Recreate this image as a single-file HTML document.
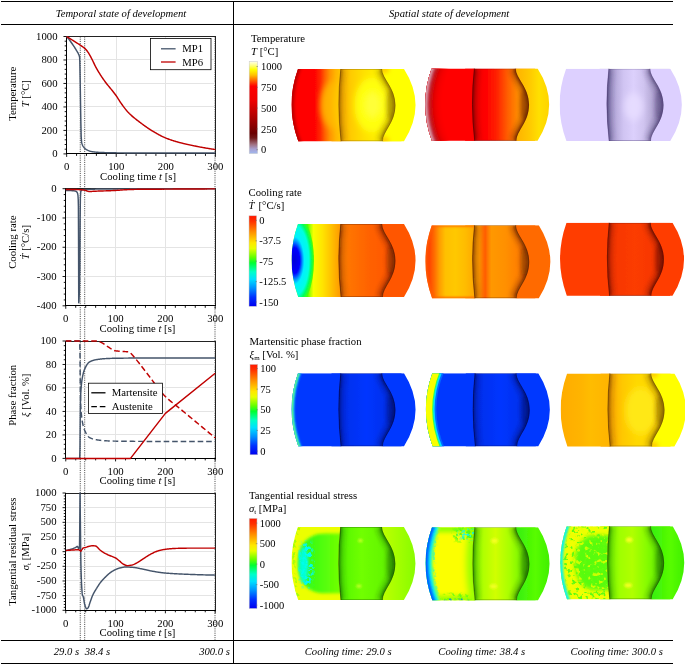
<!DOCTYPE html>
<html lang="en"><head><meta charset="utf-8"><title>Temporal and spatial state of development</title>
<style>
html,body{margin:0;padding:0;background:#fff;}
body{width:685px;height:664px;overflow:hidden;}
svg{display:block;will-change:transform;}
svg text{font-family:"Liberation Serif", "DejaVu Serif", serif;font-size:10.72px;fill:#000;}
svg .i{font-style:italic;}
svg text.it{font-style:italic;font-size:10.65px;}
svg .sub{font-size:7px;}
svg text.cb{font-size:11.2px;}
</style></head><body>
<svg width="685" height="664" viewBox="0 0 685 664">
<defs>
<linearGradient id="cbT" x1="0" y1="0" x2="0" y2="1" gradientUnits="objectBoundingBox"><stop offset="0.0000" stop-color="#fffff0"/><stop offset="0.0400" stop-color="#ffff90"/><stop offset="0.0900" stop-color="#ffff00"/><stop offset="0.1500" stop-color="#ffc000"/><stop offset="0.2100" stop-color="#ff6000"/><stop offset="0.2700" stop-color="#ff0000"/><stop offset="0.4200" stop-color="#f00000"/><stop offset="0.6000" stop-color="#b00000"/><stop offset="0.7800" stop-color="#6a0000"/><stop offset="0.8300" stop-color="#701818"/><stop offset="0.9000" stop-color="#a07080"/><stop offset="0.9500" stop-color="#a8a0d0"/><stop offset="1.0000" stop-color="#a0b8f0"/></linearGradient>
<linearGradient id="cbC" x1="0" y1="0" x2="0" y2="1" gradientUnits="objectBoundingBox"><stop offset="0.0000" stop-color="#ff1800"/><stop offset="0.0600" stop-color="#ff3000"/><stop offset="0.1800" stop-color="#ff9000"/><stop offset="0.3000" stop-color="#ffe800"/><stop offset="0.3600" stop-color="#e8ff00"/><stop offset="0.4600" stop-color="#60ff00"/><stop offset="0.5200" stop-color="#00ff30"/><stop offset="0.6200" stop-color="#00ffc8"/><stop offset="0.7000" stop-color="#00e0ff"/><stop offset="0.8000" stop-color="#0090ff"/><stop offset="0.9000" stop-color="#0030ff"/><stop offset="1.0000" stop-color="#0000f0"/></linearGradient>
<linearGradient id="cbM" x1="0" y1="0" x2="0" y2="1" gradientUnits="objectBoundingBox"><stop offset="0.0000" stop-color="#ff1800"/><stop offset="0.0600" stop-color="#ff3000"/><stop offset="0.1800" stop-color="#ff9000"/><stop offset="0.3000" stop-color="#ffe800"/><stop offset="0.3600" stop-color="#e8ff00"/><stop offset="0.4600" stop-color="#60ff00"/><stop offset="0.5200" stop-color="#00ff30"/><stop offset="0.6200" stop-color="#00ffc8"/><stop offset="0.7000" stop-color="#00e0ff"/><stop offset="0.8000" stop-color="#0090ff"/><stop offset="0.9000" stop-color="#0030ff"/><stop offset="1.0000" stop-color="#0000f0"/></linearGradient>
<linearGradient id="cbS" x1="0" y1="0" x2="0" y2="1" gradientUnits="objectBoundingBox"><stop offset="0.0000" stop-color="#ff1800"/><stop offset="0.0600" stop-color="#ff3000"/><stop offset="0.1800" stop-color="#ff9000"/><stop offset="0.3000" stop-color="#ffe800"/><stop offset="0.3600" stop-color="#e8ff00"/><stop offset="0.4600" stop-color="#60ff00"/><stop offset="0.5200" stop-color="#00ff30"/><stop offset="0.6200" stop-color="#00ffc8"/><stop offset="0.7000" stop-color="#00e0ff"/><stop offset="0.8000" stop-color="#0090ff"/><stop offset="0.9000" stop-color="#0030ff"/><stop offset="1.0000" stop-color="#0000f0"/></linearGradient>
<path id="pOut" d="M6.5,0 L112.5,0 Q135.6,36.1 112.5,72.2 L6.8,72.2 Q-6.6,36.1 6.5,0Z"/><path id="pA" d="M6.5,0 L49.1,0 Q45.1,36.1 49.4,72.2 L6.8,72.2 Q-6.6,36.1 6.5,0Z"/><path id="pC" d="M90.6,0 L112.5,0 Q135.6,36.1 112.5,72.2 L91.3,72.2 C91.3,62.2 103.9,54 103.9,36.3 C103.9,18.5 90.6,10 90.6,0Z"/>
<path id="pS1" d="M49.1,0 Q45.1,36.1 49.4,72.2"/><path id="pS2" d="M90.6,0 C90.6,10 103.9,18.5 103.9,36.3 C103.9,54 91.3,62.2 91.3,72.2"/><path id="pL" d="M9.39,-7.22 Q-9.52,36.1 9.75,79.42"/><path id="pR" d="M112.5,0 Q135.6,36.1 112.5,72.2"/>
<clipPath id="cOut"><use href="#pOut"/></clipPath><clipPath id="cA"><use href="#pA"/></clipPath><clipPath id="cC"><use href="#pC"/></clipPath>
<filter id="b06" filterUnits="userSpaceOnUse" x="-30" y="-30" width="190" height="135"><feGaussianBlur stdDeviation="0.6"/></filter>
<filter id="b1" filterUnits="userSpaceOnUse" x="-30" y="-30" width="190" height="135"><feGaussianBlur stdDeviation="1"/></filter>
<filter id="b15" filterUnits="userSpaceOnUse" x="-30" y="-30" width="190" height="135"><feGaussianBlur stdDeviation="1.5"/></filter>
<filter id="b2" filterUnits="userSpaceOnUse" x="-30" y="-30" width="190" height="135"><feGaussianBlur stdDeviation="2"/></filter>
<filter id="b3" filterUnits="userSpaceOnUse" x="-30" y="-30" width="190" height="135"><feGaussianBlur stdDeviation="3.2"/></filter>
<filter id="b5" filterUnits="userSpaceOnUse" x="-30" y="-30" width="190" height="135"><feGaussianBlur stdDeviation="5"/></filter>
<filter id="soft" x="-5%" y="-5%" width="110%" height="110%"><feGaussianBlur stdDeviation="0.45"/></filter>
<linearGradient id="g1" x1="47" y1="0" x2="104" y2="0" gradientUnits="userSpaceOnUse"><stop offset="0.0000" stop-color="#ffa800"/><stop offset="0.0877" stop-color="#ffb800"/><stop offset="0.2281" stop-color="#ffcc00"/><stop offset="0.4386" stop-color="#ffe000"/><stop offset="0.6667" stop-color="#fff000"/><stop offset="1.0000" stop-color="#fff400"/></linearGradient>
<linearGradient id="g2" x1="0" y1="0" x2="49" y2="0" gradientUnits="userSpaceOnUse"><stop offset="0.0000" stop-color="#ff0000"/><stop offset="0.4694" stop-color="#ff0000"/><stop offset="0.5816" stop-color="#ff2400"/><stop offset="0.6735" stop-color="#ff5c00"/><stop offset="0.7755" stop-color="#ff9000"/><stop offset="0.8980" stop-color="#ffb400"/><stop offset="1.0000" stop-color="#ffc400"/></linearGradient>
<linearGradient id="g3" x1="47" y1="0" x2="104" y2="0" gradientUnits="userSpaceOnUse"><stop offset="0.0000" stop-color="#f40000"/><stop offset="0.2632" stop-color="#ff0400"/><stop offset="0.4386" stop-color="#ff2400"/><stop offset="0.6140" stop-color="#ff5c00"/><stop offset="0.7895" stop-color="#ff8800"/><stop offset="1.0000" stop-color="#ff9800"/></linearGradient>
<linearGradient id="g4" x1="90" y1="0" x2="124" y2="0" gradientUnits="userSpaceOnUse"><stop offset="0.0000" stop-color="#ffb000"/><stop offset="0.4118" stop-color="#ffc800"/><stop offset="0.7059" stop-color="#ffe000"/><stop offset="1.0000" stop-color="#ffd400"/></linearGradient>
<clipPath id="cOut5"><path d="M6.5,0 L110.7,0 Q133.8,36.1 110.7,72.2 L6.8,72.2 Q-6.6,36.1 6.5,0Z"/></clipPath><clipPath id="cC5"><path d="M90.6,0 L110.7,0 Q133.8,36.1 110.7,72.2 L91.3,72.2 C91.3,62.2 103.9,54 103.9,36.3 C103.9,18.5 90.6,10 90.6,0Z"/></clipPath>
<linearGradient id="g6" x1="47" y1="0" x2="104" y2="0" gradientUnits="userSpaceOnUse"><stop offset="0.0000" stop-color="#8074a8"/><stop offset="0.0526" stop-color="#9c90c4"/><stop offset="0.1579" stop-color="#b8acdc"/><stop offset="0.2982" stop-color="#d0c4f2"/><stop offset="0.4737" stop-color="#dcd0fc"/><stop offset="0.6491" stop-color="#d0c4f0"/><stop offset="0.7895" stop-color="#b8acd8"/><stop offset="1.0000" stop-color="#9c90bc"/></linearGradient>
<radialGradient id="rg21" cx="0" cy="0" r="1" gradientUnits="userSpaceOnUse" gradientTransform="translate(3,36.1) scale(19.5,47)"><stop offset="0" stop-color="#0000d8"/><stop offset="0.27" stop-color="#0000ff"/><stop offset="0.40" stop-color="#0090ff"/><stop offset="0.50" stop-color="#00f0ff"/><stop offset="0.74" stop-color="#00ffe0"/><stop offset="0.86" stop-color="#00ff60"/><stop offset="1" stop-color="#50ff00"/></radialGradient>
<linearGradient id="g7" x1="47" y1="0" x2="104" y2="0" gradientUnits="userSpaceOnUse"><stop offset="0.0000" stop-color="#ff8400"/><stop offset="0.1930" stop-color="#ff7400"/><stop offset="0.5789" stop-color="#ff6000"/><stop offset="1.0000" stop-color="#ff5400"/></linearGradient>
<linearGradient id="g8" x1="0" y1="0" x2="49" y2="0" gradientUnits="userSpaceOnUse"><stop offset="0.0000" stop-color="#50ff00"/><stop offset="0.3265" stop-color="#50ff00"/><stop offset="0.3776" stop-color="#a0ff00"/><stop offset="0.4490" stop-color="#f8ff00"/><stop offset="0.6327" stop-color="#ffe400"/><stop offset="0.8163" stop-color="#ffc000"/><stop offset="1.0000" stop-color="#ff9800"/></linearGradient>
<clipPath id="cOut9"><path d="M6.5,0 L113.5,0 Q136.6,36.1 113.5,72.2 L6.8,72.2 Q-6.6,36.1 6.5,0Z"/></clipPath><clipPath id="cC9"><path d="M90.6,0 L113.5,0 Q136.6,36.1 113.5,72.2 L91.3,72.2 C91.3,62.2 103.9,54 103.9,36.3 C103.9,18.5 90.6,10 90.6,0Z"/></clipPath>
<linearGradient id="g10" x1="47" y1="0" x2="104" y2="0" gradientUnits="userSpaceOnUse"><stop offset="0.0000" stop-color="#ffa400"/><stop offset="0.1228" stop-color="#ff9800"/><stop offset="0.1842" stop-color="#ff7000"/><stop offset="0.2281" stop-color="#ff5c00"/><stop offset="0.2719" stop-color="#ff7800"/><stop offset="0.3333" stop-color="#ff9800"/><stop offset="0.5789" stop-color="#ff9000"/><stop offset="0.8421" stop-color="#ff7c00"/><stop offset="1.0000" stop-color="#ff7400"/></linearGradient>
<linearGradient id="g11" x1="0" y1="0" x2="49" y2="0" gradientUnits="userSpaceOnUse"><stop offset="0.0000" stop-color="#ff4000"/><stop offset="0.0918" stop-color="#ff4800"/><stop offset="0.1837" stop-color="#ff6c00"/><stop offset="0.2857" stop-color="#ff9c00"/><stop offset="0.4082" stop-color="#ffc000"/><stop offset="0.6122" stop-color="#ffc800"/><stop offset="0.8163" stop-color="#ffbc00"/><stop offset="1.0000" stop-color="#ffa800"/></linearGradient>
<linearGradient id="g12" x1="47" y1="0" x2="104" y2="0" gradientUnits="userSpaceOnUse"><stop offset="0.0000" stop-color="#f43400"/><stop offset="0.4912" stop-color="#fc3c00"/><stop offset="1.0000" stop-color="#f43400"/></linearGradient>
<linearGradient id="g13" x1="47" y1="0" x2="104" y2="0" gradientUnits="userSpaceOnUse"><stop offset="0.0000" stop-color="#002ce8"/><stop offset="0.4912" stop-color="#0036ff"/><stop offset="1.0000" stop-color="#002ce4"/></linearGradient>
<linearGradient id="g14" x1="47" y1="0" x2="104" y2="0" gradientUnits="userSpaceOnUse"><stop offset="0.0000" stop-color="#002ce8"/><stop offset="0.4912" stop-color="#0036ff"/><stop offset="1.0000" stop-color="#002ce4"/></linearGradient>
<clipPath id="cOut15"><path d="M6.5,0 L113.8,0 Q136.9,36.1 113.8,72.2 L6.8,72.2 Q-6.6,36.1 6.5,0Z"/></clipPath><clipPath id="cC15"><path d="M90.6,0 L113.8,0 Q136.9,36.1 113.8,72.2 L91.3,72.2 C91.3,62.2 103.9,54 103.9,36.3 C103.9,18.5 90.6,10 90.6,0Z"/></clipPath>
<linearGradient id="g16" x1="47" y1="0" x2="104" y2="0" gradientUnits="userSpaceOnUse"><stop offset="0.0000" stop-color="#ff9c00"/><stop offset="0.0877" stop-color="#ffb000"/><stop offset="0.2632" stop-color="#ffc800"/><stop offset="0.5088" stop-color="#ffd800"/><stop offset="1.0000" stop-color="#ffd800"/></linearGradient>
<linearGradient id="g17" x1="0" y1="0" x2="49" y2="0" gradientUnits="userSpaceOnUse"><stop offset="0.0000" stop-color="#ffac00"/><stop offset="0.4082" stop-color="#ffb400"/><stop offset="0.6122" stop-color="#ffbc00"/><stop offset="1.0000" stop-color="#ffb400"/></linearGradient>
<filter id="skC" x="0" y="0" width="1" height="1" color-interpolation-filters="sRGB"><feTurbulence type="fractalNoise" baseFrequency="0.3" numOctaves="2" seed="4"/><feColorMatrix type="matrix" values="0 0 0 0 0.000  0 0 0 0 0.973  0 0 0 0 1.000  9 0 0 0 -4.50"/><feComposite in2="SourceAlpha" operator="in"/><feGaussianBlur stdDeviation="0.35"/></filter>
<filter id="skB" x="0" y="0" width="1" height="1" color-interpolation-filters="sRGB"><feTurbulence type="fractalNoise" baseFrequency="0.33" numOctaves="2" seed="9"/><feColorMatrix type="matrix" values="0 0 0 0 0.000  0 0 0 0 0.439  0 0 0 0 1.000  9 0 0 0 -4.68"/><feComposite in2="SourceAlpha" operator="in"/><feGaussianBlur stdDeviation="0.35"/></filter>
<filter id="skY" x="0" y="0" width="1" height="1" color-interpolation-filters="sRGB"><feTurbulence type="fractalNoise" baseFrequency="0.22" numOctaves="2" seed="2"/><feColorMatrix type="matrix" values="0 0 0 0 0.957  0 0 0 0 1.000  0 0 0 0 0.000  7 0 0 0 -3.29"/><feComposite in2="SourceAlpha" operator="in"/><feGaussianBlur stdDeviation="0.35"/></filter>
<filter id="skG" x="0" y="0" width="1" height="1" color-interpolation-filters="sRGB"><feTurbulence type="fractalNoise" baseFrequency="0.24" numOctaves="2" seed="7"/><feColorMatrix type="matrix" values="0 0 0 0 0.345  0 0 0 0 0.988  0 0 0 0 0.063  7 0 0 0 -3.50"/><feComposite in2="SourceAlpha" operator="in"/><feGaussianBlur stdDeviation="0.35"/></filter>
<linearGradient id="g41core" x1="7" y1="0" x2="50" y2="0" gradientUnits="userSpaceOnUse"><stop offset="0.0000" stop-color="#28fc30"/><stop offset="0.3500" stop-color="#40fc10"/><stop offset="1.0000" stop-color="#74ff00"/></linearGradient>
<linearGradient id="g18" x1="47" y1="0" x2="104" y2="0" gradientUnits="userSpaceOnUse"><stop offset="0.0000" stop-color="#50f400"/><stop offset="0.4035" stop-color="#70ff00"/><stop offset="1.0000" stop-color="#5cf000"/></linearGradient>
<linearGradient id="g19" x1="90" y1="0" x2="124" y2="0" gradientUnits="userSpaceOnUse"><stop offset="0.0000" stop-color="#c0ff00"/><stop offset="0.4118" stop-color="#a8ff00"/><stop offset="1.0000" stop-color="#88fc00"/></linearGradient>
<linearGradient id="g20" x1="47" y1="0" x2="104" y2="0" gradientUnits="userSpaceOnUse"><stop offset="0.0000" stop-color="#70f800"/><stop offset="0.1930" stop-color="#b0ff00"/><stop offset="0.4035" stop-color="#d0ff00"/><stop offset="0.6491" stop-color="#a8ff00"/><stop offset="1.0000" stop-color="#58f000"/></linearGradient>
<linearGradient id="g21" x1="90" y1="0" x2="124" y2="0" gradientUnits="userSpaceOnUse"><stop offset="0.0000" stop-color="#34ee10"/><stop offset="0.5882" stop-color="#58fc00"/><stop offset="1.0000" stop-color="#40f000"/></linearGradient>
<filter id="skG2" x="0" y="0" width="1" height="1" color-interpolation-filters="sRGB"><feTurbulence type="fractalNoise" baseFrequency="0.26" numOctaves="2" seed="11"/><feColorMatrix type="matrix" values="0 0 0 0 0.376  0 0 0 0 0.988  0 0 0 0 0.063  8 0 0 0 -4.48"/><feComposite in2="SourceAlpha" operator="in"/><feGaussianBlur stdDeviation="0.35"/></filter>
<filter id="skY2" x="0" y="0" width="1" height="1" color-interpolation-filters="sRGB"><feTurbulence type="fractalNoise" baseFrequency="0.24" numOctaves="2" seed="5"/><feColorMatrix type="matrix" values="0 0 0 0 0.910  0 0 0 0 1.000  0 0 0 0 0.000  7 0 0 0 -3.99"/><feComposite in2="SourceAlpha" operator="in"/><feGaussianBlur stdDeviation="0.35"/></filter>
<linearGradient id="g22" x1="47" y1="0" x2="104" y2="0" gradientUnits="userSpaceOnUse"><stop offset="0.0000" stop-color="#68f800"/><stop offset="0.2281" stop-color="#a0ff00"/><stop offset="0.4386" stop-color="#b0ff00"/><stop offset="0.6842" stop-color="#88fc00"/><stop offset="1.0000" stop-color="#50ec00"/></linearGradient>
<linearGradient id="g23" x1="90" y1="0" x2="124" y2="0" gradientUnits="userSpaceOnUse"><stop offset="0.0000" stop-color="#34ee10"/><stop offset="0.5882" stop-color="#58fc00"/><stop offset="1.0000" stop-color="#40f000"/></linearGradient>
</defs>
<rect width="685" height="664" fill="#fff"/>
<g stroke="#000" stroke-width="1" shape-rendering="crispEdges">
<line x1="1" y1="1.5" x2="673" y2="1.5"/>
<line x1="1" y1="24.5" x2="673" y2="24.5"/>
<line x1="1" y1="640.5" x2="673" y2="640.5"/>
<line x1="1" y1="663.5" x2="673" y2="663.5"/>
<line x1="233.5" y1="1" x2="233.5" y2="664"/>
</g>
<text x="121" y="16.6" class="it" text-anchor="middle">Temporal state of development</text>
<text x="449.2" y="16.6" class="it" text-anchor="middle">Spatial state of development</text>
<line x1="80.25" y1="36.5" x2="80.25" y2="640" stroke="#404040" stroke-width="0.9" stroke-dasharray="1.1 1.1"/>
<line x1="84.70" y1="36.5" x2="84.70" y2="640" stroke="#404040" stroke-width="0.9" stroke-dasharray="1.1 1.1"/>
<line x1="215.00" y1="36.5" x2="215.00" y2="640" stroke="#404040" stroke-width="0.9" stroke-dasharray="1.1 1.1"/>
<g stroke="#e4e4e4" stroke-width="1" shape-rendering="crispEdges">
<line x1="116.23" y1="36.5" x2="116.23" y2="153.9"/>
<line x1="165.82" y1="36.5" x2="165.82" y2="153.9"/>
<line x1="66.65" y1="130.42" x2="215.4" y2="130.42"/>
<line x1="66.65" y1="106.94" x2="215.4" y2="106.94"/>
<line x1="66.65" y1="83.46" x2="215.4" y2="83.46"/>
<line x1="66.65" y1="59.98" x2="215.4" y2="59.98"/>
</g>
<rect x="66.65" y="36.5" width="148.75" height="117.40" fill="none" stroke="#222" stroke-width="1" shape-rendering="crispEdges"/>
<line x1="66.15" y1="153.90" x2="215.9" y2="153.90" stroke="#000" stroke-width="1.1" shape-rendering="crispEdges"/>
<line x1="66.65" y1="36.5" x2="66.65" y2="153.9" stroke="#000" stroke-width="1.2" shape-rendering="crispEdges"/>
<g stroke="#000" stroke-width="0.9">
<line x1="63.45" y1="153.90" x2="66.65" y2="153.90"/>
<line x1="64.65" y1="149.20" x2="66.65" y2="149.20"/>
<line x1="64.65" y1="144.51" x2="66.65" y2="144.51"/>
<line x1="64.65" y1="139.81" x2="66.65" y2="139.81"/>
<line x1="64.65" y1="135.12" x2="66.65" y2="135.12"/>
<line x1="63.45" y1="130.42" x2="66.65" y2="130.42"/>
<line x1="64.65" y1="125.72" x2="66.65" y2="125.72"/>
<line x1="64.65" y1="121.03" x2="66.65" y2="121.03"/>
<line x1="64.65" y1="116.33" x2="66.65" y2="116.33"/>
<line x1="64.65" y1="111.64" x2="66.65" y2="111.64"/>
<line x1="63.45" y1="106.94" x2="66.65" y2="106.94"/>
<line x1="64.65" y1="102.24" x2="66.65" y2="102.24"/>
<line x1="64.65" y1="97.55" x2="66.65" y2="97.55"/>
<line x1="64.65" y1="92.85" x2="66.65" y2="92.85"/>
<line x1="64.65" y1="88.16" x2="66.65" y2="88.16"/>
<line x1="63.45" y1="83.46" x2="66.65" y2="83.46"/>
<line x1="64.65" y1="78.76" x2="66.65" y2="78.76"/>
<line x1="64.65" y1="74.07" x2="66.65" y2="74.07"/>
<line x1="64.65" y1="69.37" x2="66.65" y2="69.37"/>
<line x1="64.65" y1="64.68" x2="66.65" y2="64.68"/>
<line x1="63.45" y1="59.98" x2="66.65" y2="59.98"/>
<line x1="64.65" y1="55.28" x2="66.65" y2="55.28"/>
<line x1="64.65" y1="50.59" x2="66.65" y2="50.59"/>
<line x1="64.65" y1="45.89" x2="66.65" y2="45.89"/>
<line x1="64.65" y1="41.20" x2="66.65" y2="41.20"/>
<line x1="63.45" y1="36.50" x2="66.65" y2="36.50"/>
<line x1="66.65" y1="153.9" x2="66.65" y2="156.90"/>
<line x1="76.57" y1="153.9" x2="76.57" y2="155.90"/>
<line x1="86.48" y1="153.9" x2="86.48" y2="155.90"/>
<line x1="96.40" y1="153.9" x2="96.40" y2="155.90"/>
<line x1="106.32" y1="153.9" x2="106.32" y2="155.90"/>
<line x1="116.23" y1="153.9" x2="116.23" y2="156.90"/>
<line x1="126.15" y1="153.9" x2="126.15" y2="155.90"/>
<line x1="136.07" y1="153.9" x2="136.07" y2="155.90"/>
<line x1="145.98" y1="153.9" x2="145.98" y2="155.90"/>
<line x1="155.90" y1="153.9" x2="155.90" y2="155.90"/>
<line x1="165.82" y1="153.9" x2="165.82" y2="156.90"/>
<line x1="175.73" y1="153.9" x2="175.73" y2="155.90"/>
<line x1="185.65" y1="153.9" x2="185.65" y2="155.90"/>
<line x1="195.57" y1="153.9" x2="195.57" y2="155.90"/>
<line x1="205.48" y1="153.9" x2="205.48" y2="155.90"/>
<line x1="215.40" y1="153.9" x2="215.40" y2="156.90"/>
</g>
<text x="57.5" y="157.00" text-anchor="end">0</text>
<text x="57.5" y="133.52" text-anchor="end">200</text>
<text x="57.5" y="110.04" text-anchor="end">400</text>
<text x="57.5" y="86.56" text-anchor="end">600</text>
<text x="57.5" y="63.08" text-anchor="end">800</text>
<text x="57.5" y="39.60" text-anchor="end">1000</text>
<text x="66.65" y="170.10" text-anchor="middle">0</text>
<text x="116.23" y="170.10" text-anchor="middle">100</text>
<text x="165.82" y="170.10" text-anchor="middle">200</text>
<text x="215.40" y="170.10" text-anchor="middle">300</text>
<text x="138.03" y="179.80" text-anchor="middle">Cooling time <tspan class="i">t</tspan> [s]</text>
<text transform="translate(15.9,93.7) rotate(-90)" text-anchor="middle">Temperature</text>
<text transform="translate(28.6,93.7) rotate(-90)" text-anchor="middle"><tspan class="i">T</tspan> [°C]</text>
<polyline points="66.65,36.50 67.01,36.92 67.36,37.35 67.72,37.79 68.07,38.23 68.43,38.68 68.78,39.14 69.14,39.60 69.49,40.06 69.85,40.53 70.20,41.01 70.56,41.49 70.91,41.98 71.27,42.48 71.61,42.96 71.62,42.97 71.98,43.48 72.33,43.99 72.69,44.51 73.04,45.03 73.40,45.56 73.75,46.10 74.11,46.64 74.46,47.19 74.82,47.75 75.17,48.31 75.53,48.88 75.88,49.46 76.24,50.04 76.57,50.59 76.59,50.63 76.95,51.20 77.30,51.76 77.66,52.34 78.01,52.97 78.37,53.69 78.55,54.11 78.72,54.48 79.08,55.22 79.43,56.44 79.64,57.63 79.79,60.96 80.14,78.76 80.14,78.96 80.50,101.36 80.68,112.81 80.85,122.27 81.18,136.29 81.21,136.84 81.56,141.73 81.62,142.16 81.92,143.50 82.27,144.54 82.52,145.09 82.63,145.33 82.98,146.03 83.34,146.62 83.69,147.13 84.05,147.56 84.15,147.68 84.40,147.93 84.76,148.27 85.11,148.59 85.47,148.88 85.82,149.14 86.18,149.39 86.53,149.62 86.89,149.83 87.24,150.02 87.48,150.14 87.60,150.20 87.95,150.38 88.31,150.54 88.66,150.70 89.02,150.85 89.37,150.99 89.73,151.12 90.08,151.23 90.44,151.33 90.79,151.41 90.90,151.43 91.15,151.48 91.50,151.55 91.86,151.61 92.21,151.67 92.57,151.73 92.92,151.78 93.28,151.84 93.63,151.89 93.99,151.94 94.34,151.98 94.70,152.03 95.05,152.07 95.41,152.11 95.76,152.14 96.12,152.18 96.47,152.21 96.83,152.24 97.18,152.27 97.54,152.29 97.89,152.32 98.25,152.34 98.60,152.36 98.88,152.37 98.96,152.38 99.31,152.39 99.67,152.41 100.02,152.43 100.38,152.44 100.73,152.46 101.09,152.47 101.44,152.49 101.80,152.50 102.15,152.52 102.51,152.53 102.86,152.54 103.22,152.56 103.57,152.57 103.93,152.58 104.28,152.59 104.64,152.61 104.99,152.62 105.35,152.63 105.70,152.64 106.06,152.65 106.41,152.66 106.77,152.67 107.12,152.68 107.48,152.69 107.83,152.70 108.19,152.71 108.54,152.72 108.90,152.73 109.25,152.74 109.61,152.74 109.96,152.75 110.32,152.76 110.67,152.77 111.03,152.77 111.38,152.78 111.74,152.79 112.09,152.79 112.45,152.80 112.80,152.80 113.16,152.81 113.51,152.81 113.87,152.82 114.22,152.82 114.58,152.83 114.93,152.83 115.29,152.83 115.64,152.84 116.00,152.84 116.23,152.84 116.35,152.84 116.71,152.85 117.06,152.85 117.42,152.85 117.77,152.86 118.13,152.86 118.48,152.86 118.84,152.86 119.19,152.87 119.55,152.87 119.90,152.87 120.26,152.87 120.61,152.88 120.97,152.88 121.32,152.88 121.68,152.88 122.03,152.89 122.39,152.89 122.74,152.89 123.10,152.89 123.45,152.89 123.81,152.90 124.16,152.90 124.52,152.90 124.87,152.90 125.23,152.90 125.58,152.91 125.94,152.91 126.29,152.91 126.65,152.91 127.00,152.91 127.36,152.91 127.71,152.92 128.07,152.92 128.42,152.92 128.78,152.92 129.13,152.92 129.49,152.92 129.84,152.93 130.20,152.93 130.55,152.93 130.91,152.93 131.26,152.93 131.62,152.93 131.97,152.93 132.33,152.93 132.68,152.94 133.04,152.94 133.39,152.94 133.75,152.94 134.10,152.94 134.46,152.94 134.81,152.94 135.17,152.94 135.52,152.95 135.88,152.95 136.23,152.95 136.59,152.95 136.94,152.95 137.30,152.95 137.65,152.95 138.01,152.95 138.36,152.95 138.72,152.95 139.07,152.96 139.43,152.96 139.78,152.96 140.14,152.96 140.49,152.96 140.85,152.96 141.03,152.96 141.20,152.96 141.56,152.96 141.91,152.96 142.27,152.96 142.62,152.96 142.98,152.97 143.33,152.97 143.69,152.97 144.04,152.97 144.40,152.97 144.75,152.97 145.11,152.97 145.46,152.97 145.82,152.97 146.17,152.97 146.53,152.97 146.88,152.98 147.24,152.98 147.59,152.98 147.95,152.98 148.30,152.98 148.66,152.98 149.01,152.98 149.37,152.98 149.72,152.98 150.08,152.98 150.43,152.98 150.79,152.99 151.14,152.99 151.50,152.99 151.85,152.99 152.21,152.99 152.56,152.99 152.92,152.99 153.27,152.99 153.63,152.99 153.98,152.99 154.34,152.99 154.69,152.99 155.05,153.00 155.40,153.00 155.76,153.00 156.11,153.00 156.47,153.00 156.82,153.00 157.18,153.00 157.53,153.00 157.89,153.00 158.24,153.00 158.60,153.00 158.95,153.00 159.31,153.01 159.66,153.01 160.02,153.01 160.37,153.01 160.73,153.01 161.08,153.01 161.44,153.01 161.79,153.01 162.15,153.01 162.50,153.01 162.86,153.01 163.21,153.01 163.57,153.01 163.92,153.02 164.28,153.02 164.63,153.02 164.99,153.02 165.34,153.02 165.70,153.02 166.05,153.02 166.41,153.02 166.76,153.02 167.12,153.02 167.47,153.02 167.83,153.02 168.18,153.02 168.54,153.03 168.89,153.03 169.25,153.03 169.60,153.03 169.96,153.03 170.31,153.03 170.67,153.03 171.02,153.03 171.38,153.03 171.73,153.03 172.09,153.03 172.44,153.03 172.80,153.03 173.15,153.03 173.51,153.04 173.86,153.04 174.22,153.04 174.57,153.04 174.93,153.04 175.28,153.04 175.64,153.04 175.99,153.04 176.35,153.04 176.70,153.04 177.06,153.04 177.41,153.04 177.77,153.04 178.12,153.04 178.48,153.04 178.83,153.04 179.19,153.05 179.54,153.05 179.90,153.05 180.25,153.05 180.61,153.05 180.96,153.05 181.32,153.05 181.67,153.05 182.03,153.05 182.38,153.05 182.74,153.05 183.09,153.05 183.45,153.05 183.80,153.05 184.16,153.05 184.51,153.05 184.87,153.05 185.22,153.05 185.58,153.06 185.93,153.06 186.29,153.06 186.64,153.06 187.00,153.06 187.35,153.06 187.71,153.06 188.06,153.06 188.42,153.06 188.77,153.06 189.13,153.06 189.48,153.06 189.84,153.06 190.19,153.06 190.55,153.06 190.90,153.06 191.26,153.06 191.61,153.06 191.97,153.06 192.32,153.06 192.68,153.06 193.03,153.06 193.39,153.07 193.74,153.07 194.10,153.07 194.45,153.07 194.81,153.07 195.16,153.07 195.52,153.07 195.87,153.07 196.23,153.07 196.58,153.07 196.94,153.07 197.29,153.07 197.65,153.07 198.00,153.07 198.36,153.07 198.71,153.07 199.07,153.07 199.42,153.07 199.78,153.07 200.13,153.07 200.49,153.07 200.84,153.07 201.20,153.07 201.55,153.07 201.91,153.07 202.26,153.07 202.62,153.07 202.97,153.07 203.33,153.07 203.68,153.07 204.04,153.07 204.39,153.07 204.75,153.08 205.10,153.08 205.46,153.08 205.81,153.08 206.17,153.08 206.52,153.08 206.88,153.08 207.23,153.08 207.59,153.08 207.94,153.08 208.30,153.08 208.65,153.08 209.01,153.08 209.36,153.08 209.72,153.08 210.07,153.08 210.43,153.08 210.78,153.08 211.14,153.08 211.49,153.08 211.85,153.08 212.20,153.08 212.56,153.08 212.91,153.08 213.27,153.08 213.62,153.08 213.98,153.08 214.33,153.08 214.69,153.08 215.04,153.08 215.40,153.08" fill="none" stroke="#44546a" stroke-width="1.45" stroke-linejoin="round"/>
<polyline points="66.65,36.50 67.22,36.86 67.80,37.22 68.37,37.58 68.95,37.94 69.52,38.30 70.10,38.67 70.67,39.03 71.24,39.39 71.82,39.75 72.39,40.12 72.97,40.48 73.54,40.85 74.09,41.20 74.12,41.21 74.69,41.58 75.26,41.94 75.84,42.30 76.41,42.65 76.99,43.01 77.56,43.37 78.14,43.74 78.71,44.10 79.29,44.48 79.86,44.86 80.43,45.24 81.01,45.64 81.03,45.66 81.58,46.04 82.16,46.43 82.73,46.83 83.31,47.24 83.88,47.67 84.45,48.13 85.03,48.63 85.49,49.06 85.60,49.17 86.18,49.80 86.75,50.51 87.33,51.28 87.90,52.10 88.47,52.94 88.47,52.95 89.05,53.86 89.62,54.84 90.20,55.88 90.77,56.96 91.35,58.04 91.44,58.22 91.92,59.14 92.49,60.29 93.07,61.48 93.64,62.68 94.22,63.89 94.79,65.08 95.37,66.24 95.94,67.35 96.40,68.20 96.51,68.40 97.09,69.41 97.66,70.40 98.24,71.37 98.81,72.31 99.39,73.24 99.96,74.15 100.54,75.05 101.11,75.93 101.68,76.80 102.26,77.65 102.83,78.49 103.41,79.32 103.84,79.94 103.98,80.14 104.56,80.94 105.13,81.73 105.70,82.49 106.28,83.24 106.85,83.97 107.43,84.69 108.00,85.40 108.58,86.11 109.15,86.81 109.72,87.50 110.30,88.20 110.87,88.89 111.45,89.59 112.02,90.29 112.60,91.00 113.17,91.72 113.74,92.45 114.32,93.19 114.89,93.95 115.47,94.72 116.04,95.52 116.23,95.79 116.62,96.34 117.19,97.20 117.76,98.10 118.34,99.02 118.91,99.94 119.49,100.85 120.06,101.75 120.64,102.62 121.19,103.42 121.21,103.44 121.79,104.25 122.36,105.04 122.93,105.83 123.51,106.61 124.08,107.38 124.66,108.13 125.23,108.87 125.81,109.60 126.38,110.30 126.95,110.98 127.53,111.63 128.10,112.26 128.63,112.81 128.68,112.86 129.25,113.44 129.83,114.00 130.40,114.55 130.97,115.08 131.55,115.61 132.12,116.12 132.70,116.62 133.27,117.11 133.85,117.59 134.42,118.07 134.99,118.53 135.57,118.99 136.14,119.44 136.72,119.89 137.29,120.33 137.87,120.77 138.44,121.20 139.01,121.63 139.59,122.07 140.16,122.50 140.74,122.93 141.03,123.14 141.31,123.36 141.89,123.78 142.46,124.21 143.04,124.63 143.61,125.05 144.18,125.47 144.76,125.88 145.33,126.29 145.91,126.70 146.48,127.10 147.06,127.50 147.63,127.89 148.20,128.28 148.78,128.67 149.35,129.05 149.93,129.42 150.50,129.79 151.08,130.16 151.65,130.52 152.22,130.87 152.80,131.22 153.37,131.57 153.42,131.59 153.95,131.90 154.52,132.24 155.10,132.58 155.67,132.91 156.24,133.24 156.82,133.57 157.39,133.89 157.97,134.21 158.54,134.53 159.12,134.84 159.69,135.15 160.26,135.45 160.84,135.75 161.41,136.04 161.99,136.33 162.56,136.60 163.14,136.88 163.71,137.14 164.29,137.40 164.86,137.65 165.43,137.89 165.82,138.05 166.01,138.13 166.58,138.36 167.16,138.58 167.73,138.80 168.31,139.02 168.88,139.23 169.45,139.43 170.03,139.63 170.60,139.83 171.18,140.03 171.75,140.22 172.33,140.41 172.90,140.59 173.47,140.77 174.05,140.95 174.62,141.12 175.20,141.30 175.77,141.47 176.35,141.63 176.92,141.80 177.49,141.96 178.07,142.12 178.21,142.16 178.64,142.28 179.22,142.43 179.79,142.59 180.37,142.73 180.94,142.88 181.51,143.03 182.09,143.17 182.66,143.31 183.24,143.44 183.81,143.58 184.39,143.71 184.96,143.85 185.54,143.98 186.11,144.11 186.68,144.24 187.26,144.36 187.83,144.49 188.41,144.62 188.98,144.74 189.56,144.87 190.13,144.99 190.61,145.09 190.70,145.12 191.28,145.24 191.85,145.36 192.43,145.48 193.00,145.61 193.58,145.73 194.15,145.85 194.72,145.96 195.30,146.08 195.87,146.20 196.45,146.32 197.02,146.43 197.60,146.54 198.17,146.66 198.74,146.77 199.32,146.88 199.89,146.99 200.47,147.10 201.04,147.20 201.62,147.31 202.19,147.41 202.76,147.52 203.00,147.56 203.34,147.62 203.91,147.72 204.49,147.82 205.06,147.92 205.64,148.02 206.21,148.12 206.79,148.22 207.36,148.31 207.93,148.41 208.51,148.50 209.08,148.59 209.66,148.69 210.23,148.78 210.81,148.87 211.38,148.96 211.95,149.05 212.53,149.13 213.10,149.22 213.68,149.31 214.25,149.39 214.83,149.47 215.40,149.56" fill="none" stroke="#c00000" stroke-width="1.45" stroke-linejoin="round"/>
<rect x="150.4" y="38.5" width="60.6" height="31.2" fill="#fff" stroke="#000" stroke-width="0.8"/>
<line x1="161" y1="48.8" x2="175.6" y2="48.8" stroke="#44546a" stroke-width="1.3"/>
<line x1="161" y1="62" x2="175.6" y2="62" stroke="#c00000" stroke-width="1.3"/>
<text x="182.3" y="52.4">MP1</text><text x="182.3" y="65.6">MP6</text>
<g stroke="#e4e4e4" stroke-width="1" shape-rendering="crispEdges">
<line x1="115.57" y1="188.7" x2="115.57" y2="305.8"/>
<line x1="165.38" y1="188.7" x2="165.38" y2="305.8"/>
<line x1="65.75" y1="276.52" x2="215.2" y2="276.52"/>
<line x1="65.75" y1="247.25" x2="215.2" y2="247.25"/>
<line x1="65.75" y1="217.97" x2="215.2" y2="217.97"/>
</g>
<rect x="65.75" y="188.7" width="149.45" height="117.10" fill="none" stroke="#222" stroke-width="1" shape-rendering="crispEdges"/>
<line x1="65.25" y1="305.80" x2="215.7" y2="305.80" stroke="#000" stroke-width="1.1" shape-rendering="crispEdges"/>
<line x1="65.75" y1="188.7" x2="65.75" y2="305.8" stroke="#000" stroke-width="1.2" shape-rendering="crispEdges"/>
<g stroke="#000" stroke-width="0.9">
<line x1="62.55" y1="305.80" x2="65.75" y2="305.80"/>
<line x1="63.75" y1="299.94" x2="65.75" y2="299.94"/>
<line x1="63.75" y1="294.09" x2="65.75" y2="294.09"/>
<line x1="63.75" y1="288.24" x2="65.75" y2="288.24"/>
<line x1="63.75" y1="282.38" x2="65.75" y2="282.38"/>
<line x1="62.55" y1="276.52" x2="65.75" y2="276.52"/>
<line x1="63.75" y1="270.67" x2="65.75" y2="270.67"/>
<line x1="63.75" y1="264.81" x2="65.75" y2="264.81"/>
<line x1="63.75" y1="258.96" x2="65.75" y2="258.96"/>
<line x1="63.75" y1="253.11" x2="65.75" y2="253.11"/>
<line x1="62.55" y1="247.25" x2="65.75" y2="247.25"/>
<line x1="63.75" y1="241.39" x2="65.75" y2="241.39"/>
<line x1="63.75" y1="235.54" x2="65.75" y2="235.54"/>
<line x1="63.75" y1="229.69" x2="65.75" y2="229.69"/>
<line x1="63.75" y1="223.83" x2="65.75" y2="223.83"/>
<line x1="62.55" y1="217.97" x2="65.75" y2="217.97"/>
<line x1="63.75" y1="212.12" x2="65.75" y2="212.12"/>
<line x1="63.75" y1="206.26" x2="65.75" y2="206.26"/>
<line x1="63.75" y1="200.41" x2="65.75" y2="200.41"/>
<line x1="63.75" y1="194.56" x2="65.75" y2="194.56"/>
<line x1="62.55" y1="188.70" x2="65.75" y2="188.70"/>
<line x1="65.75" y1="305.8" x2="65.75" y2="308.80"/>
<line x1="75.71" y1="305.8" x2="75.71" y2="307.80"/>
<line x1="85.68" y1="305.8" x2="85.68" y2="307.80"/>
<line x1="95.64" y1="305.8" x2="95.64" y2="307.80"/>
<line x1="105.60" y1="305.8" x2="105.60" y2="307.80"/>
<line x1="115.57" y1="305.8" x2="115.57" y2="308.80"/>
<line x1="125.53" y1="305.8" x2="125.53" y2="307.80"/>
<line x1="135.49" y1="305.8" x2="135.49" y2="307.80"/>
<line x1="145.46" y1="305.8" x2="145.46" y2="307.80"/>
<line x1="155.42" y1="305.8" x2="155.42" y2="307.80"/>
<line x1="165.38" y1="305.8" x2="165.38" y2="308.80"/>
<line x1="175.35" y1="305.8" x2="175.35" y2="307.80"/>
<line x1="185.31" y1="305.8" x2="185.31" y2="307.80"/>
<line x1="195.27" y1="305.8" x2="195.27" y2="307.80"/>
<line x1="205.24" y1="305.8" x2="205.24" y2="307.80"/>
<line x1="215.20" y1="305.8" x2="215.20" y2="308.80"/>
</g>
<text x="56.5" y="308.90" text-anchor="end">-400</text>
<text x="56.5" y="279.62" text-anchor="end">-300</text>
<text x="56.5" y="250.35" text-anchor="end">-200</text>
<text x="56.5" y="221.07" text-anchor="end">-100</text>
<text x="56.5" y="191.80" text-anchor="end">0</text>
<text x="65.75" y="322.00" text-anchor="middle">0</text>
<text x="115.57" y="322.00" text-anchor="middle">100</text>
<text x="165.38" y="322.00" text-anchor="middle">200</text>
<text x="215.20" y="322.00" text-anchor="middle">300</text>
<text x="137.47" y="331.70" text-anchor="middle">Cooling time <tspan class="i">t</tspan> [s]</text>
<text transform="translate(15.9,242.2) rotate(-90)" text-anchor="middle">Cooling rate</text>
<text transform="translate(28.6,242.2) rotate(-90)" text-anchor="middle"><tspan class="i">Ṫ</tspan> [°C/s]</text>
<polyline points="65.75,190.46 66.11,190.46 66.46,190.46 66.82,190.46 67.18,190.47 67.53,190.48 67.89,190.48 68.25,190.49 68.60,190.50 68.96,190.52 69.32,190.53 69.67,190.54 70.03,190.56 70.39,190.58 70.74,190.59 71.10,190.61 71.46,190.63 71.81,190.66 72.17,190.68 72.53,190.70 72.88,190.73 73.22,190.75 73.24,190.75 73.60,190.78 73.95,190.82 74.31,190.87 74.67,190.93 75.02,191.00 75.38,191.09 75.71,191.19 75.74,191.20 76.09,191.36 76.45,191.61 76.81,191.96 77.16,192.44 77.21,192.51 77.52,193.21 77.88,194.84 78.00,195.73 78.23,199.51 78.40,206.26 78.58,247.25 78.59,251.50 78.73,302.87 78.95,301.48 79.30,293.41 79.66,278.37 79.85,267.74 80.02,239.25 80.12,220.90 80.37,198.22 80.40,197.48 80.73,191.95 80.79,191.63 81.09,190.86 81.44,190.35 81.69,190.16 81.80,190.11 82.16,189.94 82.51,189.80 82.87,189.70 83.23,189.63 83.58,189.59 83.68,189.58 83.94,189.56 84.30,189.54 84.65,189.53 85.01,189.51 85.37,189.50 85.72,189.49 86.08,189.48 86.44,189.48 86.79,189.47 87.15,189.46 87.51,189.45 87.86,189.44 88.17,189.43 88.22,189.43 88.58,189.42 88.93,189.40 89.29,189.39 89.65,189.38 90.00,189.36 90.36,189.35 90.72,189.33 91.07,189.32 91.43,189.30 91.79,189.29 92.14,189.27 92.50,189.25 92.86,189.24 93.21,189.22 93.57,189.21 93.93,189.19 94.28,189.17 94.64,189.16 95.00,189.14 95.35,189.13 95.71,189.12 96.07,189.10 96.42,189.09 96.78,189.08 97.14,189.06 97.49,189.05 97.85,189.04 98.21,189.03 98.56,189.02 98.92,189.02 99.28,189.01 99.63,189.00 99.99,189.00 100.35,188.99 100.62,188.99 100.70,188.99 101.06,188.99 101.42,188.99 101.77,188.99 102.13,188.98 102.49,188.98 102.84,188.98 103.20,188.98 103.56,188.97 103.92,188.97 104.27,188.97 104.63,188.97 104.99,188.97 105.34,188.96 105.70,188.96 106.06,188.96 106.41,188.96 106.77,188.96 107.13,188.95 107.48,188.95 107.84,188.95 108.20,188.95 108.55,188.95 108.91,188.94 109.27,188.94 109.62,188.94 109.98,188.94 110.34,188.94 110.69,188.93 111.05,188.93 111.41,188.93 111.76,188.93 112.12,188.93 112.48,188.92 112.83,188.92 113.19,188.92 113.55,188.92 113.90,188.92 114.26,188.92 114.62,188.91 114.97,188.91 115.33,188.91 115.69,188.91 116.04,188.91 116.40,188.90 116.76,188.90 117.11,188.90 117.47,188.90 117.83,188.90 118.18,188.90 118.54,188.89 118.90,188.89 119.25,188.89 119.61,188.89 119.97,188.89 120.32,188.89 120.68,188.88 121.04,188.88 121.39,188.88 121.75,188.88 122.11,188.88 122.46,188.88 122.82,188.87 123.18,188.87 123.53,188.87 123.89,188.87 124.25,188.87 124.60,188.87 124.96,188.87 125.32,188.86 125.67,188.86 126.03,188.86 126.39,188.86 126.74,188.86 127.10,188.86 127.46,188.85 127.81,188.85 128.17,188.85 128.53,188.85 128.88,188.85 129.24,188.85 129.60,188.85 129.95,188.84 130.31,188.84 130.67,188.84 131.02,188.84 131.38,188.84 131.74,188.84 132.09,188.84 132.45,188.83 132.81,188.83 133.16,188.83 133.52,188.83 133.88,188.83 134.23,188.83 134.59,188.83 134.95,188.83 135.30,188.82 135.66,188.82 136.02,188.82 136.37,188.82 136.73,188.82 137.09,188.82 137.44,188.82 137.80,188.82 138.16,188.81 138.51,188.81 138.87,188.81 139.23,188.81 139.58,188.81 139.94,188.81 140.30,188.81 140.65,188.81 141.01,188.80 141.37,188.80 141.72,188.80 142.08,188.80 142.44,188.80 142.79,188.80 143.15,188.80 143.51,188.80 143.86,188.80 144.22,188.79 144.58,188.79 144.93,188.79 145.29,188.79 145.65,188.79 146.00,188.79 146.36,188.79 146.72,188.79 147.07,188.79 147.43,188.78 147.79,188.78 148.14,188.78 148.50,188.78 148.86,188.78 149.21,188.78 149.57,188.78 149.93,188.78 150.28,188.78 150.64,188.78 151.00,188.77 151.35,188.77 151.71,188.77 152.07,188.77 152.42,188.77 152.78,188.77 153.14,188.77 153.49,188.77 153.85,188.77 154.21,188.77 154.56,188.77 154.92,188.76 155.28,188.76 155.63,188.76 155.99,188.76 156.35,188.76 156.70,188.76 157.06,188.76 157.42,188.76 157.77,188.76 158.13,188.76 158.49,188.76 158.84,188.76 159.20,188.75 159.56,188.75 159.91,188.75 160.27,188.75 160.63,188.75 160.98,188.75 161.34,188.75 161.70,188.75 162.05,188.75 162.41,188.75 162.77,188.75 163.12,188.75 163.48,188.75 163.84,188.74 164.19,188.74 164.55,188.74 164.91,188.74 165.26,188.74 165.62,188.74 165.98,188.74 166.33,188.74 166.69,188.74 167.05,188.74 167.40,188.74 167.76,188.74 168.12,188.74 168.47,188.74 168.83,188.74 169.19,188.74 169.54,188.73 169.90,188.73 170.26,188.73 170.61,188.73 170.97,188.73 171.33,188.73 171.68,188.73 172.04,188.73 172.40,188.73 172.75,188.73 173.11,188.73 173.47,188.73 173.82,188.73 174.18,188.73 174.54,188.73 174.89,188.73 175.25,188.73 175.61,188.73 175.96,188.72 176.32,188.72 176.68,188.72 177.03,188.72 177.39,188.72 177.75,188.72 178.11,188.72 178.46,188.72 178.82,188.72 179.18,188.72 179.53,188.72 179.89,188.72 180.25,188.72 180.60,188.72 180.96,188.72 181.32,188.72 181.67,188.72 182.03,188.72 182.39,188.72 182.74,188.72 183.10,188.72 183.46,188.72 183.81,188.72 184.17,188.71 184.53,188.71 184.88,188.71 185.24,188.71 185.60,188.71 185.95,188.71 186.31,188.71 186.67,188.71 187.02,188.71 187.38,188.71 187.74,188.71 188.09,188.71 188.45,188.71 188.81,188.71 189.16,188.71 189.52,188.71 189.88,188.71 190.23,188.71 190.59,188.71 190.95,188.71 191.30,188.71 191.66,188.71 192.02,188.71 192.37,188.71 192.73,188.71 193.09,188.71 193.44,188.71 193.80,188.71 194.16,188.71 194.51,188.71 194.87,188.71 195.23,188.71 195.58,188.71 195.94,188.71 196.30,188.71 196.65,188.70 197.01,188.70 197.37,188.70 197.72,188.70 198.08,188.70 198.44,188.70 198.79,188.70 199.15,188.70 199.51,188.70 199.86,188.70 200.22,188.70 200.58,188.70 200.93,188.70 201.29,188.70 201.65,188.70 202.00,188.70 202.36,188.70 202.72,188.70 203.07,188.70 203.43,188.70 203.79,188.70 204.14,188.70 204.50,188.70 204.86,188.70 205.21,188.70 205.57,188.70 205.93,188.70 206.28,188.70 206.64,188.70 207.00,188.70 207.35,188.70 207.71,188.70 208.07,188.70 208.42,188.70 208.78,188.70 209.14,188.70 209.49,188.70 209.85,188.70 210.21,188.70 210.56,188.70 210.92,188.70 211.28,188.70 211.63,188.70 211.99,188.70 212.35,188.70 212.70,188.70 213.06,188.70 213.42,188.70 213.77,188.70 214.13,188.70 214.49,188.70 214.84,188.70 215.20,188.70" fill="none" stroke="#44546a" stroke-width="1.45" stroke-linejoin="round"/>
<polyline points="65.75,189.58 66.33,189.58 66.90,189.58 67.48,189.58 68.06,189.58 68.64,189.58 69.21,189.58 69.79,189.58 70.37,189.58 70.94,189.58 71.52,189.58 72.10,189.58 72.67,189.58 73.25,189.58 73.83,189.58 74.41,189.58 74.98,189.58 75.56,189.58 75.71,189.58 76.14,189.58 76.71,189.59 77.29,189.60 77.87,189.61 78.44,189.63 79.02,189.65 79.60,189.67 80.18,189.70 80.69,189.72 80.75,189.73 81.33,189.76 81.91,189.81 82.48,189.87 83.06,189.93 83.64,190.01 84.21,190.09 84.68,190.16 84.79,190.18 85.37,190.33 85.95,190.52 86.52,190.75 87.10,190.98 87.68,191.19 88.25,191.36 88.83,191.46 89.16,191.48 89.41,191.48 89.99,191.47 90.56,191.46 91.14,191.43 91.72,191.41 92.29,191.37 92.87,191.34 93.45,191.31 94.02,191.27 94.60,191.24 95.18,191.21 95.64,191.19 95.76,191.18 96.33,191.16 96.91,191.14 97.49,191.12 98.06,191.09 98.64,191.07 99.22,191.05 99.79,191.03 100.37,191.01 100.95,191.00 101.53,190.98 102.10,190.96 102.68,190.94 103.26,190.92 103.83,190.90 104.41,190.88 104.99,190.87 105.56,190.85 106.14,190.83 106.72,190.81 107.30,190.79 107.87,190.77 108.45,190.75 109.03,190.73 109.60,190.71 110.18,190.69 110.76,190.67 111.34,190.65 111.91,190.62 112.49,190.60 113.07,190.57 113.64,190.55 114.22,190.52 114.80,190.49 115.37,190.47 115.57,190.46 115.95,190.44 116.53,190.40 117.11,190.36 117.68,190.32 118.26,190.28 118.84,190.23 119.41,190.18 119.99,190.13 120.57,190.08 121.14,190.03 121.72,189.98 122.30,189.93 122.88,189.89 123.45,189.85 124.03,189.81 124.61,189.77 125.18,189.74 125.53,189.72 125.76,189.71 126.34,189.69 126.91,189.67 127.49,189.64 128.07,189.62 128.65,189.60 129.22,189.57 129.80,189.55 130.38,189.53 130.95,189.51 131.53,189.49 132.11,189.47 132.69,189.45 133.26,189.44 133.84,189.42 134.42,189.40 134.99,189.39 135.57,189.37 136.15,189.36 136.72,189.35 137.30,189.33 137.88,189.32 138.46,189.31 139.03,189.30 139.61,189.30 140.19,189.29 140.47,189.29 140.76,189.28 141.34,189.28 141.92,189.27 142.49,189.27 143.07,189.26 143.65,189.26 144.23,189.25 144.80,189.25 145.38,189.24 145.96,189.24 146.53,189.23 147.11,189.23 147.69,189.23 148.26,189.22 148.84,189.22 149.42,189.22 150.00,189.21 150.57,189.21 151.15,189.21 151.73,189.20 152.30,189.20 152.88,189.20 153.46,189.20 154.04,189.19 154.61,189.19 155.19,189.19 155.77,189.19 156.34,189.18 156.92,189.18 157.50,189.18 158.07,189.18 158.65,189.17 159.23,189.17 159.81,189.17 160.38,189.16 160.96,189.16 161.54,189.16 162.11,189.16 162.69,189.15 163.27,189.15 163.84,189.15 164.42,189.14 165.00,189.14 165.38,189.14 165.58,189.14 166.15,189.13 166.73,189.13 167.31,189.13 167.88,189.12 168.46,189.12 169.04,189.12 169.61,189.11 170.19,189.11 170.77,189.11 171.35,189.10 171.92,189.10 172.50,189.10 173.08,189.09 173.65,189.09 174.23,189.09 174.81,189.08 175.39,189.08 175.96,189.08 176.54,189.07 177.12,189.07 177.69,189.07 178.27,189.06 178.85,189.06 179.42,189.06 180.00,189.05 180.58,189.05 181.16,189.05 181.73,189.04 182.31,189.04 182.89,189.04 183.46,189.03 184.04,189.03 184.62,189.03 185.19,189.02 185.77,189.02 186.35,189.02 186.93,189.01 187.50,189.01 188.08,189.01 188.66,189.00 189.23,189.00 189.81,189.00 190.39,188.99 190.96,188.99 191.54,188.99 192.12,188.98 192.70,188.98 193.27,188.98 193.85,188.97 194.43,188.97 195.00,188.97 195.58,188.96 196.16,188.96 196.74,188.95 197.31,188.95 197.89,188.95 198.47,188.94 199.04,188.94 199.62,188.94 200.20,188.93 200.77,188.93 201.35,188.93 201.93,188.92 202.51,188.92 203.08,188.92 203.66,188.91 204.24,188.91 204.81,188.91 205.39,188.90 205.97,188.90 206.54,188.90 207.12,188.89 207.70,188.89 208.28,188.89 208.85,188.88 209.43,188.88 210.01,188.88 210.58,188.87 211.16,188.87 211.74,188.87 212.31,188.86 212.89,188.86 213.47,188.86 214.05,188.85 214.62,188.85 215.20,188.85" fill="none" stroke="#c00000" stroke-width="1.45" stroke-linejoin="round"/>
<g stroke="#e4e4e4" stroke-width="1" shape-rendering="crispEdges">
<line x1="115.57" y1="341.0" x2="115.57" y2="458.4"/>
<line x1="165.38" y1="341.0" x2="165.38" y2="458.4"/>
<line x1="65.75" y1="434.92" x2="215.2" y2="434.92"/>
<line x1="65.75" y1="411.44" x2="215.2" y2="411.44"/>
<line x1="65.75" y1="387.96" x2="215.2" y2="387.96"/>
<line x1="65.75" y1="364.48" x2="215.2" y2="364.48"/>
</g>
<rect x="65.75" y="341.0" width="149.45" height="117.40" fill="none" stroke="#222" stroke-width="1" shape-rendering="crispEdges"/>
<line x1="65.25" y1="458.40" x2="215.7" y2="458.40" stroke="#000" stroke-width="1.1" shape-rendering="crispEdges"/>
<line x1="65.75" y1="341.0" x2="65.75" y2="458.4" stroke="#000" stroke-width="1.2" shape-rendering="crispEdges"/>
<g stroke="#000" stroke-width="0.9">
<line x1="62.55" y1="458.40" x2="65.75" y2="458.40"/>
<line x1="63.75" y1="453.70" x2="65.75" y2="453.70"/>
<line x1="63.75" y1="449.01" x2="65.75" y2="449.01"/>
<line x1="63.75" y1="444.31" x2="65.75" y2="444.31"/>
<line x1="63.75" y1="439.62" x2="65.75" y2="439.62"/>
<line x1="62.55" y1="434.92" x2="65.75" y2="434.92"/>
<line x1="63.75" y1="430.22" x2="65.75" y2="430.22"/>
<line x1="63.75" y1="425.53" x2="65.75" y2="425.53"/>
<line x1="63.75" y1="420.83" x2="65.75" y2="420.83"/>
<line x1="63.75" y1="416.14" x2="65.75" y2="416.14"/>
<line x1="62.55" y1="411.44" x2="65.75" y2="411.44"/>
<line x1="63.75" y1="406.74" x2="65.75" y2="406.74"/>
<line x1="63.75" y1="402.05" x2="65.75" y2="402.05"/>
<line x1="63.75" y1="397.35" x2="65.75" y2="397.35"/>
<line x1="63.75" y1="392.66" x2="65.75" y2="392.66"/>
<line x1="62.55" y1="387.96" x2="65.75" y2="387.96"/>
<line x1="63.75" y1="383.26" x2="65.75" y2="383.26"/>
<line x1="63.75" y1="378.57" x2="65.75" y2="378.57"/>
<line x1="63.75" y1="373.87" x2="65.75" y2="373.87"/>
<line x1="63.75" y1="369.18" x2="65.75" y2="369.18"/>
<line x1="62.55" y1="364.48" x2="65.75" y2="364.48"/>
<line x1="63.75" y1="359.78" x2="65.75" y2="359.78"/>
<line x1="63.75" y1="355.09" x2="65.75" y2="355.09"/>
<line x1="63.75" y1="350.39" x2="65.75" y2="350.39"/>
<line x1="63.75" y1="345.70" x2="65.75" y2="345.70"/>
<line x1="62.55" y1="341.00" x2="65.75" y2="341.00"/>
<line x1="65.75" y1="458.4" x2="65.75" y2="461.40"/>
<line x1="75.71" y1="458.4" x2="75.71" y2="460.40"/>
<line x1="85.68" y1="458.4" x2="85.68" y2="460.40"/>
<line x1="95.64" y1="458.4" x2="95.64" y2="460.40"/>
<line x1="105.60" y1="458.4" x2="105.60" y2="460.40"/>
<line x1="115.57" y1="458.4" x2="115.57" y2="461.40"/>
<line x1="125.53" y1="458.4" x2="125.53" y2="460.40"/>
<line x1="135.49" y1="458.4" x2="135.49" y2="460.40"/>
<line x1="145.46" y1="458.4" x2="145.46" y2="460.40"/>
<line x1="155.42" y1="458.4" x2="155.42" y2="460.40"/>
<line x1="165.38" y1="458.4" x2="165.38" y2="461.40"/>
<line x1="175.35" y1="458.4" x2="175.35" y2="460.40"/>
<line x1="185.31" y1="458.4" x2="185.31" y2="460.40"/>
<line x1="195.27" y1="458.4" x2="195.27" y2="460.40"/>
<line x1="205.24" y1="458.4" x2="205.24" y2="460.40"/>
<line x1="215.20" y1="458.4" x2="215.20" y2="461.40"/>
</g>
<text x="56.5" y="461.50" text-anchor="end">0</text>
<text x="56.5" y="438.02" text-anchor="end">20</text>
<text x="56.5" y="414.54" text-anchor="end">40</text>
<text x="56.5" y="391.06" text-anchor="end">60</text>
<text x="56.5" y="367.58" text-anchor="end">80</text>
<text x="56.5" y="344.10" text-anchor="end">100</text>
<text x="65.75" y="474.60" text-anchor="middle">0</text>
<text x="115.57" y="474.60" text-anchor="middle">100</text>
<text x="165.38" y="474.60" text-anchor="middle">200</text>
<text x="215.20" y="474.60" text-anchor="middle">300</text>
<text x="137.47" y="484.30" text-anchor="middle">Cooling time <tspan class="i">t</tspan> [s]</text>
<text transform="translate(15.9,395.3) rotate(-90)" text-anchor="middle">Phase fraction</text>
<text transform="translate(28.6,395.3) rotate(-90)" text-anchor="middle"><tspan class="i">ξ</tspan> [Vol. %]</text>
<polyline points="65.75,458.40 66.11,458.40 66.46,458.40 66.82,458.40 67.18,458.40 67.53,458.40 67.89,458.40 68.25,458.40 68.60,458.40 68.96,458.40 69.32,458.40 69.67,458.40 70.03,458.40 70.39,458.40 70.74,458.40 71.10,458.40 71.46,458.40 71.81,458.40 72.17,458.40 72.53,458.40 72.88,458.40 73.24,458.40 73.60,458.40 73.95,458.40 74.31,458.40 74.67,458.40 75.02,458.40 75.38,458.40 75.74,458.40 76.09,458.40 76.45,458.40 76.81,458.40 77.16,458.40 77.52,458.40 77.88,458.40 78.23,458.40 78.59,458.40 78.95,458.40 79.30,458.40 79.60,458.40 79.66,458.01 79.95,449.01 80.02,443.91 80.35,405.57 80.37,404.40 80.73,393.90 80.94,390.31 81.09,388.37 81.44,384.32 81.80,381.21 82.16,378.79 82.34,377.75 82.51,376.82 82.87,375.08 83.23,373.55 83.58,372.20 83.94,371.02 84.30,370.00 84.65,369.12 84.68,369.06 85.01,368.33 85.37,367.58 85.72,366.86 86.08,366.17 86.44,365.53 86.79,364.93 87.15,364.37 87.51,363.86 87.86,363.40 88.22,362.98 88.58,362.62 88.93,362.31 89.29,362.06 89.36,362.01 89.65,361.85 90.00,361.65 90.36,361.47 90.72,361.30 91.07,361.13 91.43,360.98 91.79,360.84 92.14,360.70 92.50,360.58 92.86,360.46 93.21,360.35 93.57,360.25 93.93,360.16 94.28,360.07 94.64,359.99 95.00,359.91 95.35,359.84 95.64,359.78 95.71,359.77 96.07,359.71 96.42,359.64 96.78,359.58 97.14,359.52 97.49,359.47 97.85,359.41 98.21,359.36 98.56,359.30 98.92,359.25 99.28,359.20 99.63,359.16 99.99,359.11 100.35,359.07 100.70,359.03 101.06,358.99 101.42,358.95 101.77,358.91 102.13,358.87 102.49,358.84 102.84,358.81 103.20,358.78 103.56,358.75 103.92,358.72 104.27,358.69 104.63,358.67 104.99,358.65 105.34,358.62 105.60,358.61 105.70,358.60 106.06,358.59 106.41,358.57 106.77,358.55 107.13,358.53 107.48,358.51 107.84,358.50 108.20,358.48 108.55,358.47 108.91,358.45 109.27,358.44 109.62,358.42 109.98,358.41 110.34,358.40 110.69,358.38 111.05,358.37 111.41,358.36 111.76,358.35 112.12,358.34 112.48,358.33 112.83,358.32 113.19,358.31 113.55,358.30 113.90,358.29 114.26,358.28 114.62,358.27 114.97,358.27 115.33,358.26 115.57,358.26 115.69,358.26 116.04,358.25 116.40,358.24 116.76,358.24 117.11,358.23 117.47,358.23 117.83,358.22 118.18,358.22 118.54,358.21 118.90,358.21 119.25,358.20 119.61,358.20 119.97,358.19 120.32,358.19 120.68,358.18 121.04,358.18 121.39,358.17 121.75,358.17 122.11,358.16 122.46,358.16 122.82,358.16 123.18,358.15 123.53,358.15 123.89,358.14 124.25,358.14 124.60,358.13 124.96,358.13 125.32,358.13 125.67,358.12 126.03,358.12 126.39,358.12 126.74,358.11 127.10,358.11 127.46,358.10 127.81,358.10 128.17,358.10 128.53,358.09 128.88,358.09 129.24,358.09 129.60,358.09 129.95,358.08 130.31,358.08 130.67,358.08 131.02,358.07 131.38,358.07 131.74,358.07 132.09,358.07 132.45,358.06 132.81,358.06 133.16,358.06 133.52,358.06 133.88,358.05 134.23,358.05 134.59,358.05 134.95,358.05 135.30,358.05 135.66,358.04 136.02,358.04 136.37,358.04 136.73,358.04 137.09,358.04 137.44,358.03 137.80,358.03 138.16,358.03 138.51,358.03 138.87,358.03 139.23,358.03 139.58,358.03 139.94,358.02 140.30,358.02 140.47,358.02 140.65,358.02 141.01,358.02 141.37,358.02 141.72,358.02 142.08,358.02 142.44,358.02 142.79,358.02 143.15,358.01 143.51,358.01 143.86,358.01 144.22,358.01 144.58,358.01 144.93,358.01 145.29,358.01 145.65,358.01 146.00,358.01 146.36,358.01 146.72,358.00 147.07,358.00 147.43,358.00 147.79,358.00 148.14,358.00 148.50,358.00 148.86,358.00 149.21,358.00 149.57,358.00 149.93,358.00 150.28,357.99 150.64,357.99 151.00,357.99 151.35,357.99 151.71,357.99 152.07,357.99 152.42,357.99 152.78,357.99 153.14,357.99 153.49,357.99 153.85,357.99 154.21,357.98 154.56,357.98 154.92,357.98 155.28,357.98 155.63,357.98 155.99,357.98 156.35,357.98 156.70,357.98 157.06,357.98 157.42,357.98 157.77,357.98 158.13,357.97 158.49,357.97 158.84,357.97 159.20,357.97 159.56,357.97 159.91,357.97 160.27,357.97 160.63,357.97 160.98,357.97 161.34,357.97 161.70,357.97 162.05,357.97 162.41,357.97 162.77,357.96 163.12,357.96 163.48,357.96 163.84,357.96 164.19,357.96 164.55,357.96 164.91,357.96 165.26,357.96 165.62,357.96 165.98,357.96 166.33,357.96 166.69,357.96 167.05,357.96 167.40,357.95 167.76,357.95 168.12,357.95 168.47,357.95 168.83,357.95 169.19,357.95 169.54,357.95 169.90,357.95 170.26,357.95 170.61,357.95 170.97,357.95 171.33,357.95 171.68,357.95 172.04,357.95 172.40,357.95 172.75,357.94 173.11,357.94 173.47,357.94 173.82,357.94 174.18,357.94 174.54,357.94 174.89,357.94 175.25,357.94 175.61,357.94 175.96,357.94 176.32,357.94 176.68,357.94 177.03,357.94 177.39,357.94 177.75,357.94 178.11,357.94 178.46,357.93 178.82,357.93 179.18,357.93 179.53,357.93 179.89,357.93 180.25,357.93 180.60,357.93 180.96,357.93 181.32,357.93 181.67,357.93 182.03,357.93 182.39,357.93 182.74,357.93 183.10,357.93 183.46,357.93 183.81,357.93 184.17,357.93 184.53,357.93 184.88,357.93 185.24,357.93 185.60,357.92 185.95,357.92 186.31,357.92 186.67,357.92 187.02,357.92 187.38,357.92 187.74,357.92 188.09,357.92 188.45,357.92 188.81,357.92 189.16,357.92 189.52,357.92 189.88,357.92 190.23,357.92 190.59,357.92 190.95,357.92 191.30,357.92 191.66,357.92 192.02,357.92 192.37,357.92 192.73,357.92 193.09,357.92 193.44,357.92 193.80,357.92 194.16,357.92 194.51,357.91 194.87,357.91 195.23,357.91 195.58,357.91 195.94,357.91 196.30,357.91 196.65,357.91 197.01,357.91 197.37,357.91 197.72,357.91 198.08,357.91 198.44,357.91 198.79,357.91 199.15,357.91 199.51,357.91 199.86,357.91 200.22,357.91 200.58,357.91 200.93,357.91 201.29,357.91 201.65,357.91 202.00,357.91 202.36,357.91 202.72,357.91 203.07,357.91 203.43,357.91 203.79,357.91 204.14,357.91 204.50,357.91 204.86,357.91 205.21,357.91 205.57,357.91 205.93,357.91 206.28,357.91 206.64,357.91 207.00,357.91 207.35,357.91 207.71,357.91 208.07,357.91 208.42,357.91 208.78,357.91 209.14,357.91 209.49,357.91 209.85,357.91 210.21,357.91 210.56,357.91 210.92,357.91 211.28,357.91 211.63,357.91 211.99,357.91 212.35,357.91 212.70,357.91 213.06,357.91 213.42,357.91 213.77,357.91 214.13,357.91 214.49,357.91 214.84,357.91 215.20,357.91" fill="none" stroke="#44546a" stroke-width="1.45" stroke-linejoin="round"/>
<polyline points="65.75,341.00 66.11,341.00 66.46,341.00 66.82,341.00 67.18,341.00 67.53,341.00 67.89,341.00 68.25,341.00 68.60,341.00 68.96,341.00 69.32,341.00 69.67,341.00 70.03,341.00 70.39,341.00 70.74,341.00 71.10,341.00 71.46,341.00 71.81,341.00 72.17,341.00 72.53,341.00 72.88,341.00 73.24,341.00 73.60,341.00 73.95,341.00 74.31,341.00 74.67,341.00 75.02,341.00 75.38,341.00 75.74,341.00 76.09,341.00 76.45,341.00 76.81,341.00 77.16,341.00 77.52,341.00 77.88,341.00 78.23,341.00 78.59,341.00 78.95,341.00 79.30,341.00 79.60,341.00 79.66,341.39 79.95,350.39 80.02,355.49 80.35,393.83 80.37,395.00 80.73,405.50 80.94,409.09 81.09,411.03 81.44,415.08 81.80,418.19 82.16,420.61 82.34,421.65 82.51,422.58 82.87,424.32 83.23,425.85 83.58,427.20 83.94,428.38 84.30,429.40 84.65,430.28 84.68,430.34 85.01,431.07 85.37,431.82 85.72,432.54 86.08,433.23 86.44,433.87 86.79,434.47 87.15,435.03 87.51,435.54 87.86,436.00 88.22,436.42 88.58,436.78 88.93,437.09 89.29,437.34 89.36,437.39 89.65,437.55 90.00,437.75 90.36,437.93 90.72,438.10 91.07,438.27 91.43,438.42 91.79,438.56 92.14,438.70 92.50,438.82 92.86,438.94 93.21,439.05 93.57,439.15 93.93,439.24 94.28,439.33 94.64,439.41 95.00,439.49 95.35,439.56 95.64,439.62 95.71,439.63 96.07,439.69 96.42,439.76 96.78,439.82 97.14,439.88 97.49,439.93 97.85,439.99 98.21,440.04 98.56,440.10 98.92,440.15 99.28,440.20 99.63,440.24 99.99,440.29 100.35,440.33 100.70,440.37 101.06,440.41 101.42,440.45 101.77,440.49 102.13,440.53 102.49,440.56 102.84,440.59 103.20,440.62 103.56,440.65 103.92,440.68 104.27,440.71 104.63,440.73 104.99,440.75 105.34,440.78 105.60,440.79 105.70,440.80 106.06,440.81 106.41,440.83 106.77,440.85 107.13,440.87 107.48,440.89 107.84,440.90 108.20,440.92 108.55,440.93 108.91,440.95 109.27,440.96 109.62,440.98 109.98,440.99 110.34,441.00 110.69,441.02 111.05,441.03 111.41,441.04 111.76,441.05 112.12,441.06 112.48,441.07 112.83,441.08 113.19,441.09 113.55,441.10 113.90,441.11 114.26,441.12 114.62,441.13 114.97,441.13 115.33,441.14 115.57,441.14 115.69,441.14 116.04,441.15 116.40,441.16 116.76,441.16 117.11,441.17 117.47,441.17 117.83,441.18 118.18,441.18 118.54,441.19 118.90,441.19 119.25,441.20 119.61,441.20 119.97,441.21 120.32,441.21 120.68,441.22 121.04,441.22 121.39,441.23 121.75,441.23 122.11,441.24 122.46,441.24 122.82,441.24 123.18,441.25 123.53,441.25 123.89,441.26 124.25,441.26 124.60,441.27 124.96,441.27 125.32,441.27 125.67,441.28 126.03,441.28 126.39,441.28 126.74,441.29 127.10,441.29 127.46,441.30 127.81,441.30 128.17,441.30 128.53,441.31 128.88,441.31 129.24,441.31 129.60,441.31 129.95,441.32 130.31,441.32 130.67,441.32 131.02,441.33 131.38,441.33 131.74,441.33 132.09,441.33 132.45,441.34 132.81,441.34 133.16,441.34 133.52,441.34 133.88,441.35 134.23,441.35 134.59,441.35 134.95,441.35 135.30,441.35 135.66,441.36 136.02,441.36 136.37,441.36 136.73,441.36 137.09,441.36 137.44,441.37 137.80,441.37 138.16,441.37 138.51,441.37 138.87,441.37 139.23,441.37 139.58,441.37 139.94,441.38 140.30,441.38 140.47,441.38 140.65,441.38 141.01,441.38 141.37,441.38 141.72,441.38 142.08,441.38 142.44,441.38 142.79,441.38 143.15,441.39 143.51,441.39 143.86,441.39 144.22,441.39 144.58,441.39 144.93,441.39 145.29,441.39 145.65,441.39 146.00,441.39 146.36,441.39 146.72,441.40 147.07,441.40 147.43,441.40 147.79,441.40 148.14,441.40 148.50,441.40 148.86,441.40 149.21,441.40 149.57,441.40 149.93,441.40 150.28,441.41 150.64,441.41 151.00,441.41 151.35,441.41 151.71,441.41 152.07,441.41 152.42,441.41 152.78,441.41 153.14,441.41 153.49,441.41 153.85,441.41 154.21,441.42 154.56,441.42 154.92,441.42 155.28,441.42 155.63,441.42 155.99,441.42 156.35,441.42 156.70,441.42 157.06,441.42 157.42,441.42 157.77,441.42 158.13,441.43 158.49,441.43 158.84,441.43 159.20,441.43 159.56,441.43 159.91,441.43 160.27,441.43 160.63,441.43 160.98,441.43 161.34,441.43 161.70,441.43 162.05,441.43 162.41,441.43 162.77,441.44 163.12,441.44 163.48,441.44 163.84,441.44 164.19,441.44 164.55,441.44 164.91,441.44 165.26,441.44 165.62,441.44 165.98,441.44 166.33,441.44 166.69,441.44 167.05,441.44 167.40,441.45 167.76,441.45 168.12,441.45 168.47,441.45 168.83,441.45 169.19,441.45 169.54,441.45 169.90,441.45 170.26,441.45 170.61,441.45 170.97,441.45 171.33,441.45 171.68,441.45 172.04,441.45 172.40,441.45 172.75,441.46 173.11,441.46 173.47,441.46 173.82,441.46 174.18,441.46 174.54,441.46 174.89,441.46 175.25,441.46 175.61,441.46 175.96,441.46 176.32,441.46 176.68,441.46 177.03,441.46 177.39,441.46 177.75,441.46 178.11,441.46 178.46,441.47 178.82,441.47 179.18,441.47 179.53,441.47 179.89,441.47 180.25,441.47 180.60,441.47 180.96,441.47 181.32,441.47 181.67,441.47 182.03,441.47 182.39,441.47 182.74,441.47 183.10,441.47 183.46,441.47 183.81,441.47 184.17,441.47 184.53,441.47 184.88,441.47 185.24,441.47 185.60,441.48 185.95,441.48 186.31,441.48 186.67,441.48 187.02,441.48 187.38,441.48 187.74,441.48 188.09,441.48 188.45,441.48 188.81,441.48 189.16,441.48 189.52,441.48 189.88,441.48 190.23,441.48 190.59,441.48 190.95,441.48 191.30,441.48 191.66,441.48 192.02,441.48 192.37,441.48 192.73,441.48 193.09,441.48 193.44,441.48 193.80,441.48 194.16,441.48 194.51,441.49 194.87,441.49 195.23,441.49 195.58,441.49 195.94,441.49 196.30,441.49 196.65,441.49 197.01,441.49 197.37,441.49 197.72,441.49 198.08,441.49 198.44,441.49 198.79,441.49 199.15,441.49 199.51,441.49 199.86,441.49 200.22,441.49 200.58,441.49 200.93,441.49 201.29,441.49 201.65,441.49 202.00,441.49 202.36,441.49 202.72,441.49 203.07,441.49 203.43,441.49 203.79,441.49 204.14,441.49 204.50,441.49 204.86,441.49 205.21,441.49 205.57,441.49 205.93,441.49 206.28,441.49 206.64,441.49 207.00,441.49 207.35,441.49 207.71,441.49 208.07,441.49 208.42,441.49 208.78,441.49 209.14,441.49 209.49,441.49 209.85,441.49 210.21,441.49 210.56,441.49 210.92,441.49 211.28,441.49 211.63,441.49 211.99,441.49 212.35,441.49 212.70,441.49 213.06,441.49 213.42,441.49 213.77,441.49 214.13,441.49 214.49,441.49 214.84,441.49 215.20,441.49" fill="none" stroke="#44546a" stroke-width="1.45" stroke-linejoin="round" stroke-dasharray="5.6 2.9"/>
<polyline points="65.75,458.40 130.51,458.40 165.38,413.32 215.20,373.28" fill="none" stroke="#c00000" stroke-width="1.45" stroke-linejoin="round"/>
<polyline points="65.75,341.00 66.33,341.00 66.90,341.00 67.48,341.00 68.06,341.00 68.64,341.00 69.21,341.00 69.79,341.00 70.37,341.00 70.94,341.00 71.52,341.00 72.10,341.00 72.67,341.00 73.25,341.00 73.83,341.00 74.41,341.00 74.98,341.00 75.56,341.00 76.14,341.00 76.71,341.00 77.29,341.00 77.87,341.00 78.44,341.00 79.02,341.00 79.60,341.00 80.18,341.00 80.75,341.00 81.33,341.00 81.91,341.00 82.48,341.00 83.06,341.00 83.64,341.00 84.21,341.00 84.79,341.00 85.37,341.00 85.95,341.00 86.52,341.00 87.10,341.00 87.68,341.00 88.25,341.00 88.83,341.00 89.41,341.00 89.99,341.00 90.56,341.00 91.14,341.00 91.72,341.00 92.29,341.00 92.87,341.00 93.45,341.00 94.02,341.00 94.60,341.00 95.18,341.00 95.76,341.00 96.33,341.00 96.64,341.00 96.91,341.01 97.49,341.08 98.06,341.22 98.64,341.40 99.22,341.61 99.79,341.84 100.37,342.08 100.62,342.17 100.95,342.31 101.53,342.58 102.10,342.88 102.68,343.22 103.26,343.59 103.83,343.97 104.41,344.37 104.99,344.78 105.56,345.19 106.14,345.59 106.72,345.99 107.30,346.37 107.87,346.74 108.09,346.87 108.45,347.09 109.03,347.45 109.60,347.84 110.18,348.23 110.76,348.62 111.34,349.01 111.91,349.38 112.49,349.72 113.07,350.03 113.64,350.30 114.22,350.53 114.80,350.69 115.07,350.74 115.37,350.80 115.95,350.88 116.53,350.96 117.11,351.02 117.68,351.08 118.26,351.13 118.84,351.18 119.41,351.23 119.99,351.28 120.55,351.33 120.57,351.33 121.14,351.38 121.72,351.43 122.30,351.46 122.88,351.49 123.45,351.52 124.03,351.55 124.61,351.58 125.18,351.62 125.76,351.65 126.34,351.70 126.91,351.75 127.49,351.81 128.07,351.89 128.65,351.97 129.02,352.04 129.22,352.09 129.80,352.44 130.38,352.96 130.95,353.51 131.01,353.56 131.53,354.06 132.11,354.67 132.69,355.32 133.26,355.99 133.50,356.26 133.84,356.65 134.42,357.33 134.99,358.01 135.57,358.71 136.15,359.42 136.72,360.13 137.30,360.85 137.88,361.58 138.46,362.31 139.03,363.05 139.61,363.79 140.19,364.54 140.76,365.29 141.34,366.04 141.92,366.79 142.49,367.54 143.07,368.29 143.65,369.04 144.23,369.79 144.80,370.53 145.38,371.26 145.95,371.99 145.96,372.00 146.53,372.73 147.11,373.47 147.69,374.22 148.26,374.98 148.84,375.74 149.42,376.50 150.00,377.28 150.57,378.05 151.15,378.83 151.73,379.61 152.30,380.39 152.88,381.17 153.46,381.95 154.04,382.73 154.61,383.50 155.19,384.27 155.77,385.04 156.34,385.81 156.92,386.57 157.50,387.32 158.07,388.06 158.65,388.80 159.23,389.53 159.81,390.25 160.38,390.95 160.96,391.65 161.54,392.34 162.11,393.01 162.69,393.67 163.27,394.31 163.84,394.94 164.42,395.55 165.00,396.14 165.38,396.53 165.58,396.72 166.15,397.28 166.73,397.83 167.31,398.37 167.88,398.89 168.46,399.41 169.04,399.91 169.61,400.41 170.19,400.89 170.77,401.37 171.35,401.85 171.92,402.31 172.50,402.78 173.08,403.23 173.65,403.69 174.23,404.14 174.81,404.59 175.39,405.04 175.96,405.49 176.54,405.94 177.12,406.39 177.69,406.85 178.27,407.30 178.85,407.77 179.42,408.23 180.00,408.70 180.33,408.97 180.58,409.18 181.16,409.66 181.73,410.14 182.31,410.62 182.89,411.10 183.46,411.58 184.04,412.06 184.62,412.54 185.19,413.02 185.77,413.49 186.35,413.97 186.93,414.45 187.50,414.93 188.08,415.41 188.66,415.89 189.23,416.37 189.81,416.85 190.39,417.33 190.96,417.80 191.54,418.28 192.12,418.76 192.70,419.24 193.27,419.72 193.85,420.20 194.43,420.67 195.00,421.15 195.58,421.63 196.16,422.11 196.74,422.59 197.31,423.07 197.89,423.54 198.47,424.02 199.04,424.50 199.62,424.98 200.20,425.45 200.77,425.93 201.35,426.41 201.93,426.89 202.51,427.37 203.08,427.84 203.66,428.32 204.24,428.80 204.81,429.27 205.39,429.75 205.97,430.23 206.54,430.71 207.12,431.18 207.70,431.66 208.28,432.14 208.85,432.61 209.43,433.09 210.01,433.57 210.58,434.04 211.16,434.52 211.74,435.00 212.31,435.47 212.89,435.95 213.47,436.43 214.05,436.90 214.62,437.38 215.20,437.85" fill="none" stroke="#c00000" stroke-width="1.45" stroke-linejoin="round" stroke-dasharray="5.6 2.9"/>
<rect x="88.4" y="383.2" width="74" height="30.2" fill="#fff" stroke="#000" stroke-width="0.8"/>
<line x1="91.3" y1="392.8" x2="105.5" y2="392.8" stroke="#000" stroke-width="1.3"/>
<line x1="91.3" y1="406.6" x2="105.5" y2="406.6" stroke="#000" stroke-width="1.3" stroke-dasharray="5.6 2.9"/>
<text x="111.7" y="396.3">Martensite</text><text x="111.7" y="410">Austenite</text>
<g stroke="#e4e4e4" stroke-width="1" shape-rendering="crispEdges">
<line x1="115.57" y1="493.0" x2="115.57" y2="610.3"/>
<line x1="165.38" y1="493.0" x2="165.38" y2="610.3"/>
<line x1="65.75" y1="595.64" x2="215.2" y2="595.64"/>
<line x1="65.75" y1="580.97" x2="215.2" y2="580.97"/>
<line x1="65.75" y1="566.31" x2="215.2" y2="566.31"/>
<line x1="65.75" y1="551.65" x2="215.2" y2="551.65"/>
<line x1="65.75" y1="536.99" x2="215.2" y2="536.99"/>
<line x1="65.75" y1="522.33" x2="215.2" y2="522.33"/>
<line x1="65.75" y1="507.66" x2="215.2" y2="507.66"/>
</g>
<rect x="65.75" y="493.0" width="149.45" height="117.30" fill="none" stroke="#222" stroke-width="1" shape-rendering="crispEdges"/>
<line x1="65.25" y1="610.30" x2="215.7" y2="610.30" stroke="#000" stroke-width="1.1" shape-rendering="crispEdges"/>
<line x1="65.75" y1="493.0" x2="65.75" y2="610.3" stroke="#000" stroke-width="1.2" shape-rendering="crispEdges"/>
<g stroke="#000" stroke-width="0.9">
<line x1="62.55" y1="610.30" x2="65.75" y2="610.30"/>
<line x1="63.75" y1="607.37" x2="65.75" y2="607.37"/>
<line x1="63.75" y1="604.43" x2="65.75" y2="604.43"/>
<line x1="63.75" y1="601.50" x2="65.75" y2="601.50"/>
<line x1="63.75" y1="598.57" x2="65.75" y2="598.57"/>
<line x1="62.55" y1="595.64" x2="65.75" y2="595.64"/>
<line x1="63.75" y1="592.70" x2="65.75" y2="592.70"/>
<line x1="63.75" y1="589.77" x2="65.75" y2="589.77"/>
<line x1="63.75" y1="586.84" x2="65.75" y2="586.84"/>
<line x1="63.75" y1="583.91" x2="65.75" y2="583.91"/>
<line x1="62.55" y1="580.97" x2="65.75" y2="580.97"/>
<line x1="63.75" y1="578.04" x2="65.75" y2="578.04"/>
<line x1="63.75" y1="575.11" x2="65.75" y2="575.11"/>
<line x1="63.75" y1="572.18" x2="65.75" y2="572.18"/>
<line x1="63.75" y1="569.25" x2="65.75" y2="569.25"/>
<line x1="62.55" y1="566.31" x2="65.75" y2="566.31"/>
<line x1="63.75" y1="563.38" x2="65.75" y2="563.38"/>
<line x1="63.75" y1="560.45" x2="65.75" y2="560.45"/>
<line x1="63.75" y1="557.51" x2="65.75" y2="557.51"/>
<line x1="63.75" y1="554.58" x2="65.75" y2="554.58"/>
<line x1="62.55" y1="551.65" x2="65.75" y2="551.65"/>
<line x1="63.75" y1="548.72" x2="65.75" y2="548.72"/>
<line x1="63.75" y1="545.78" x2="65.75" y2="545.78"/>
<line x1="63.75" y1="542.85" x2="65.75" y2="542.85"/>
<line x1="63.75" y1="539.92" x2="65.75" y2="539.92"/>
<line x1="62.55" y1="536.99" x2="65.75" y2="536.99"/>
<line x1="63.75" y1="534.05" x2="65.75" y2="534.05"/>
<line x1="63.75" y1="531.12" x2="65.75" y2="531.12"/>
<line x1="63.75" y1="528.19" x2="65.75" y2="528.19"/>
<line x1="63.75" y1="525.26" x2="65.75" y2="525.26"/>
<line x1="62.55" y1="522.33" x2="65.75" y2="522.33"/>
<line x1="63.75" y1="519.39" x2="65.75" y2="519.39"/>
<line x1="63.75" y1="516.46" x2="65.75" y2="516.46"/>
<line x1="63.75" y1="513.53" x2="65.75" y2="513.53"/>
<line x1="63.75" y1="510.60" x2="65.75" y2="510.60"/>
<line x1="62.55" y1="507.66" x2="65.75" y2="507.66"/>
<line x1="63.75" y1="504.73" x2="65.75" y2="504.73"/>
<line x1="63.75" y1="501.80" x2="65.75" y2="501.80"/>
<line x1="63.75" y1="498.87" x2="65.75" y2="498.87"/>
<line x1="63.75" y1="495.93" x2="65.75" y2="495.93"/>
<line x1="62.55" y1="493.00" x2="65.75" y2="493.00"/>
<line x1="65.75" y1="610.3" x2="65.75" y2="613.30"/>
<line x1="75.71" y1="610.3" x2="75.71" y2="612.30"/>
<line x1="85.68" y1="610.3" x2="85.68" y2="612.30"/>
<line x1="95.64" y1="610.3" x2="95.64" y2="612.30"/>
<line x1="105.60" y1="610.3" x2="105.60" y2="612.30"/>
<line x1="115.57" y1="610.3" x2="115.57" y2="613.30"/>
<line x1="125.53" y1="610.3" x2="125.53" y2="612.30"/>
<line x1="135.49" y1="610.3" x2="135.49" y2="612.30"/>
<line x1="145.46" y1="610.3" x2="145.46" y2="612.30"/>
<line x1="155.42" y1="610.3" x2="155.42" y2="612.30"/>
<line x1="165.38" y1="610.3" x2="165.38" y2="613.30"/>
<line x1="175.35" y1="610.3" x2="175.35" y2="612.30"/>
<line x1="185.31" y1="610.3" x2="185.31" y2="612.30"/>
<line x1="195.27" y1="610.3" x2="195.27" y2="612.30"/>
<line x1="205.24" y1="610.3" x2="205.24" y2="612.30"/>
<line x1="215.20" y1="610.3" x2="215.20" y2="613.30"/>
</g>
<text x="56.5" y="613.40" text-anchor="end">-1000</text>
<text x="56.5" y="598.74" text-anchor="end">-750</text>
<text x="56.5" y="584.07" text-anchor="end">-500</text>
<text x="56.5" y="569.41" text-anchor="end">-250</text>
<text x="56.5" y="554.75" text-anchor="end">0</text>
<text x="56.5" y="540.09" text-anchor="end">250</text>
<text x="56.5" y="525.43" text-anchor="end">500</text>
<text x="56.5" y="510.76" text-anchor="end">750</text>
<text x="56.5" y="496.10" text-anchor="end">1000</text>
<text x="65.75" y="626.50" text-anchor="middle">0</text>
<text x="115.57" y="626.50" text-anchor="middle">100</text>
<text x="165.38" y="626.50" text-anchor="middle">200</text>
<text x="215.20" y="626.50" text-anchor="middle">300</text>
<text x="137.47" y="636.20" text-anchor="middle">Cooling time <tspan class="i">t</tspan> [s]</text>
<text transform="translate(15.9,551.6) rotate(-90)" text-anchor="middle">Tangential residual stress</text>
<text transform="translate(28.6,551.6) rotate(-90)" text-anchor="middle"><tspan class="i">σ</tspan><tspan class="sub" dy="2">t</tspan><tspan dy="-2"> [MPa]</tspan></text>
<polyline points="65.75,550.48 66.11,550.42 66.46,550.35 66.82,550.28 67.18,550.21 67.53,550.13 67.89,550.05 68.25,549.97 68.60,549.88 68.96,549.79 69.32,549.70 69.67,549.60 70.03,549.50 70.39,549.40 70.73,549.30 70.74,549.30 71.10,549.20 71.46,549.09 71.81,548.97 72.17,548.86 72.53,548.74 72.88,548.61 73.24,548.48 73.60,548.34 73.95,548.20 74.31,548.06 74.67,547.91 75.02,547.75 75.38,547.59 75.71,547.43 75.74,547.42 76.09,547.19 76.45,546.90 76.81,546.63 77.16,546.43 77.46,546.37 77.52,546.39 77.88,546.96 78.23,547.89 78.59,548.55 78.70,548.60 78.95,548.51 79.30,548.01 79.50,547.54 79.66,535.94 80.02,493.47 80.05,493.00 80.37,521.15 80.45,528.19 80.73,552.92 80.89,563.38 81.09,571.18 81.44,581.46 81.59,584.49 81.80,588.28 82.16,593.41 82.39,595.05 82.51,595.39 82.87,595.95 83.19,596.52 83.23,596.63 83.58,598.21 83.94,600.42 84.30,602.66 84.65,604.35 84.68,604.43 85.01,605.49 85.37,606.58 85.72,607.54 86.08,608.29 86.44,608.74 86.67,608.83 86.79,608.82 87.15,608.67 87.51,608.39 87.86,608.02 88.17,607.66 88.22,607.59 88.58,606.92 88.93,605.97 89.29,604.84 89.65,603.66 90.00,602.53 90.16,602.09 90.36,601.54 90.72,600.53 91.07,599.52 91.43,598.52 91.79,597.54 92.14,596.60 92.50,595.72 92.85,594.93 92.86,594.92 93.21,594.18 93.57,593.47 93.93,592.81 94.28,592.17 94.64,591.55 95.00,590.95 95.35,590.37 95.71,589.79 96.07,589.22 96.42,588.65 96.64,588.31 96.78,588.07 97.14,587.49 97.49,586.92 97.85,586.35 98.21,585.79 98.56,585.24 98.92,584.69 99.28,584.16 99.63,583.65 99.99,583.15 100.35,582.67 100.57,582.38 100.70,582.21 101.06,581.77 101.42,581.34 101.77,580.91 102.13,580.50 102.49,580.10 102.84,579.71 103.20,579.32 103.56,578.94 103.92,578.57 104.27,578.20 104.63,577.84 104.99,577.48 105.34,577.13 105.60,576.87 105.70,576.78 106.06,576.43 106.41,576.08 106.77,575.73 107.13,575.39 107.48,575.05 107.84,574.72 108.20,574.39 108.55,574.08 108.91,573.77 109.27,573.47 109.62,573.19 109.98,572.92 110.19,572.76 110.34,572.66 110.69,572.40 111.05,572.16 111.41,571.91 111.76,571.68 112.12,571.44 112.48,571.22 112.83,571.00 113.19,570.78 113.55,570.58 113.90,570.38 114.26,570.18 114.62,570.00 114.97,569.82 115.33,569.65 115.57,569.54 115.69,569.48 116.04,569.32 116.40,569.17 116.76,569.01 117.11,568.87 117.47,568.72 117.83,568.58 118.18,568.45 118.54,568.33 118.90,568.21 119.25,568.11 119.61,568.01 119.85,567.95 119.97,567.93 120.32,567.84 120.68,567.76 121.04,567.68 121.39,567.59 121.75,567.51 122.11,567.44 122.46,567.36 122.82,567.30 123.18,567.23 123.53,567.18 123.89,567.13 124.25,567.09 124.60,567.05 124.96,567.03 125.32,567.02 125.53,567.02 125.67,567.02 126.03,567.02 126.39,567.02 126.74,567.03 127.10,567.04 127.46,567.05 127.81,567.06 128.17,567.07 128.53,567.09 128.88,567.10 129.24,567.12 129.60,567.14 129.95,567.16 130.31,567.18 130.67,567.21 131.02,567.23 131.38,567.25 131.74,567.28 132.09,567.30 132.45,567.33 132.81,567.35 133.00,567.37 133.16,567.38 133.52,567.41 133.88,567.45 134.23,567.49 134.59,567.53 134.95,567.58 135.30,567.64 135.66,567.69 136.02,567.75 136.37,567.81 136.73,567.88 137.09,567.95 137.44,568.02 137.80,568.09 138.16,568.16 138.51,568.24 138.87,568.31 139.23,568.39 139.58,568.46 139.94,568.54 140.30,568.61 140.65,568.69 141.01,568.76 141.37,568.83 141.72,568.90 141.97,568.95 142.08,568.97 142.44,569.04 142.79,569.12 143.15,569.19 143.51,569.26 143.86,569.34 144.22,569.42 144.58,569.50 144.93,569.58 145.29,569.66 145.65,569.74 146.00,569.82 146.36,569.90 146.72,569.99 147.07,570.07 147.43,570.15 147.79,570.23 148.14,570.31 148.50,570.39 148.86,570.48 149.21,570.55 149.57,570.63 149.93,570.71 150.28,570.79 150.64,570.86 151.00,570.93 151.35,571.01 151.71,571.08 152.07,571.14 152.42,571.21 152.78,571.27 152.93,571.30 153.14,571.33 153.49,571.39 153.85,571.46 154.21,571.52 154.56,571.58 154.92,571.64 155.28,571.70 155.63,571.76 155.99,571.82 156.35,571.87 156.70,571.93 157.06,571.99 157.42,572.05 157.77,572.10 158.13,572.16 158.49,572.21 158.84,572.27 159.20,572.32 159.56,572.37 159.91,572.43 160.27,572.48 160.63,572.53 160.98,572.57 161.34,572.62 161.70,572.67 162.05,572.71 162.41,572.75 162.77,572.80 163.12,572.84 163.48,572.88 163.84,572.91 164.19,572.95 164.55,572.98 164.91,573.02 165.26,573.05 165.38,573.06 165.62,573.08 165.98,573.11 166.33,573.13 166.69,573.16 167.05,573.19 167.40,573.22 167.76,573.24 168.12,573.27 168.47,573.30 168.83,573.32 169.19,573.35 169.54,573.37 169.90,573.40 170.26,573.42 170.61,573.45 170.97,573.47 171.33,573.49 171.68,573.52 172.04,573.54 172.40,573.56 172.75,573.59 173.11,573.61 173.47,573.63 173.82,573.65 174.18,573.67 174.54,573.69 174.89,573.71 175.25,573.73 175.61,573.75 175.96,573.77 176.32,573.79 176.68,573.81 177.03,573.83 177.39,573.85 177.75,573.87 178.11,573.89 178.46,573.90 178.82,573.92 179.18,573.94 179.53,573.96 179.89,573.97 180.25,573.99 180.60,574.01 180.96,574.02 181.32,574.04 181.67,574.06 182.03,574.07 182.39,574.09 182.74,574.10 183.10,574.12 183.46,574.14 183.81,574.15 184.17,574.17 184.53,574.18 184.88,574.20 185.24,574.21 185.60,574.22 185.95,574.24 186.31,574.25 186.67,574.27 187.02,574.28 187.38,574.30 187.74,574.31 188.09,574.32 188.45,574.34 188.81,574.35 189.16,574.36 189.52,574.38 189.88,574.39 190.23,574.40 190.29,574.41 190.59,574.42 190.95,574.43 191.30,574.44 191.66,574.46 192.02,574.47 192.37,574.48 192.73,574.50 193.09,574.51 193.44,574.52 193.80,574.53 194.16,574.55 194.51,574.56 194.87,574.57 195.23,574.58 195.58,574.60 195.94,574.61 196.30,574.62 196.65,574.63 197.01,574.64 197.37,574.66 197.72,574.67 198.08,574.68 198.44,574.69 198.79,574.70 199.15,574.72 199.51,574.73 199.86,574.74 200.22,574.75 200.58,574.76 200.93,574.77 201.29,574.78 201.65,574.79 202.00,574.80 202.36,574.81 202.72,574.83 203.07,574.84 203.43,574.85 203.79,574.86 204.14,574.87 204.50,574.88 204.86,574.89 205.21,574.90 205.57,574.91 205.93,574.91 206.28,574.92 206.64,574.93 207.00,574.94 207.35,574.95 207.71,574.96 208.07,574.97 208.42,574.98 208.78,574.99 209.14,574.99 209.49,575.00 209.85,575.01 210.21,575.02 210.56,575.02 210.92,575.03 211.28,575.04 211.63,575.05 211.99,575.05 212.35,575.06 212.70,575.07 213.06,575.07 213.42,575.08 213.77,575.09 214.13,575.09 214.49,575.10 214.84,575.10 215.20,575.11" fill="none" stroke="#44546a" stroke-width="1.45" stroke-linejoin="round"/>
<polyline points="65.75,550.48 66.33,550.44 66.90,550.40 67.48,550.37 68.06,550.33 68.64,550.29 69.21,550.26 69.79,550.22 70.37,550.18 70.94,550.15 71.52,550.11 72.10,550.08 72.67,550.04 73.22,550.01 73.25,550.01 73.83,549.97 74.41,549.92 74.98,549.88 75.56,549.83 76.14,549.79 76.71,549.76 77.29,549.73 77.87,549.72 78.20,549.71 78.44,549.74 79.02,549.93 79.60,550.26 79.95,550.48 80.18,550.70 80.69,551.18 80.75,551.17 81.33,550.46 81.69,549.89 81.91,549.59 82.48,548.73 83.06,548.08 83.19,548.01 83.64,547.85 84.21,547.72 84.79,547.61 85.37,547.50 85.68,547.43 85.95,547.35 86.52,547.15 87.10,546.93 87.68,546.71 88.25,546.50 88.83,546.33 89.16,546.25 89.41,546.21 89.99,546.10 90.56,545.99 91.14,545.90 91.72,545.83 92.29,545.79 92.65,545.78 92.87,545.79 93.45,545.80 94.02,545.82 94.60,545.86 95.18,545.91 95.64,545.96 95.76,545.98 96.33,546.30 96.91,546.83 97.49,547.41 97.63,547.54 98.06,547.96 98.64,548.59 99.22,549.21 99.63,549.60 99.79,549.75 100.37,550.24 100.95,550.70 101.53,551.15 102.10,551.56 102.68,551.96 103.11,552.24 103.26,552.33 103.83,552.68 104.41,553.01 104.99,553.33 105.56,553.64 106.14,553.93 106.72,554.22 107.30,554.50 107.87,554.77 108.09,554.88 108.45,555.04 109.03,555.29 109.60,555.52 110.18,555.74 110.76,555.96 111.34,556.17 111.91,556.38 112.49,556.60 113.07,556.82 113.64,557.06 114.22,557.31 114.80,557.58 115.37,557.88 115.57,557.98 115.95,558.21 116.53,558.60 117.11,559.03 117.68,559.49 118.26,559.97 118.84,560.45 119.41,560.92 119.55,561.03 119.99,561.40 120.57,561.91 121.14,562.44 121.72,562.96 122.30,563.45 122.88,563.87 123.45,564.22 123.54,564.26 124.03,564.50 124.61,564.77 125.18,565.03 125.76,565.26 126.34,565.44 126.91,565.56 127.49,565.61 127.52,565.61 128.07,565.60 128.65,565.56 129.22,565.50 129.80,565.42 130.38,565.34 130.95,565.24 131.51,565.14 131.53,565.14 132.11,565.01 132.69,564.83 133.26,564.62 133.84,564.38 134.42,564.12 134.99,563.84 135.57,563.55 136.15,563.26 136.49,563.09 136.72,562.97 137.30,562.66 137.88,562.32 138.46,561.97 139.03,561.60 139.61,561.22 140.19,560.84 140.76,560.44 141.34,560.05 141.92,559.66 142.49,559.28 142.97,558.98 143.07,558.91 143.65,558.54 144.23,558.17 144.80,557.79 145.38,557.41 145.96,557.02 146.53,556.64 147.11,556.27 147.69,555.90 148.26,555.54 148.84,555.19 149.42,554.85 150.00,554.53 150.44,554.29 150.57,554.22 151.15,553.92 151.73,553.62 152.30,553.32 152.88,553.03 153.46,552.75 154.04,552.47 154.61,552.20 155.19,551.95 155.77,551.71 156.34,551.48 156.92,551.27 157.50,551.07 157.91,550.95 158.07,550.90 158.65,550.73 159.23,550.57 159.81,550.42 160.38,550.27 160.96,550.13 161.54,549.99 162.11,549.87 162.69,549.75 163.27,549.64 163.84,549.53 164.42,549.44 165.00,549.36 165.38,549.30 165.58,549.28 166.15,549.21 166.73,549.14 167.31,549.07 167.88,549.00 168.46,548.94 169.04,548.88 169.61,548.82 170.19,548.76 170.77,548.71 171.35,548.66 171.92,548.61 172.50,548.57 173.08,548.53 173.65,548.50 174.23,548.47 174.81,548.44 175.35,548.42 175.39,548.42 175.96,548.40 176.54,548.39 177.12,548.37 177.69,548.35 178.27,548.33 178.85,548.31 179.42,548.30 180.00,548.28 180.58,548.27 181.16,548.25 181.73,548.24 182.31,548.23 182.89,548.21 183.46,548.20 184.04,548.19 184.62,548.18 185.19,548.17 185.77,548.16 186.35,548.16 186.93,548.15 187.50,548.14 188.08,548.14 188.66,548.14 189.23,548.13 189.81,548.13 190.29,548.13 190.39,548.13 190.96,548.13 191.54,548.13 192.12,548.13 192.70,548.13 193.27,548.13 193.85,548.13 194.43,548.13 195.00,548.13 195.58,548.13 196.16,548.13 196.74,548.13 197.31,548.13 197.89,548.13 198.47,548.13 199.04,548.13 199.62,548.13 200.20,548.13 200.77,548.13 201.35,548.13 201.93,548.13 202.51,548.13 203.08,548.13 203.66,548.13 204.24,548.13 204.81,548.13 205.39,548.13 205.97,548.13 206.54,548.13 207.12,548.13 207.70,548.13 208.28,548.13 208.85,548.13 209.43,548.13 210.01,548.13 210.58,548.13 211.16,548.13 211.74,548.13 212.31,548.13 212.89,548.13 213.47,548.13 214.05,548.13 214.62,548.13 215.20,548.13" fill="none" stroke="#c00000" stroke-width="1.45" stroke-linejoin="round"/>
<text x="66.5" y="655.0" class="it" text-anchor="middle">29.0 s</text>
<text x="97.5" y="655.0" class="it" text-anchor="middle">38.4 s</text>
<text x="214.5" y="655.0" class="it" text-anchor="middle">300.0 s</text>
<text x="348.2" y="655.0" class="it" text-anchor="middle">Cooling time: 29.0 s</text>
<text x="481.8" y="655.0" class="it" text-anchor="middle">Cooling time: 38.4 s</text>
<text x="616.7" y="655.0" class="it" text-anchor="middle">Cooling time: 300.0 s</text>
<text x="251.0" y="42.0">Temperature</text>
<text x="251.0" y="54.7"><tspan class="i">T</tspan> [°C]</text>
<rect x="249.2" y="61.3" width="8.4" height="92.3" fill="url(#cbT)" stroke="#c8c8c8" stroke-width="0.5"/>
<line x1="256.40" y1="66.50" x2="258.00" y2="66.50" stroke="#666" stroke-width="0.5"/>
<text transform="translate(260.90,70.10) scale(0.94,1)" class="cb">1000</text>
<line x1="256.40" y1="87.30" x2="258.00" y2="87.30" stroke="#666" stroke-width="0.5"/>
<text transform="translate(260.90,90.90) scale(0.94,1)" class="cb">750</text>
<line x1="256.40" y1="108.10" x2="258.00" y2="108.10" stroke="#666" stroke-width="0.5"/>
<text transform="translate(260.90,111.70) scale(0.94,1)" class="cb">500</text>
<line x1="256.40" y1="128.90" x2="258.00" y2="128.90" stroke="#666" stroke-width="0.5"/>
<text transform="translate(260.90,132.50) scale(0.94,1)" class="cb">250</text>
<line x1="256.40" y1="149.70" x2="258.00" y2="149.70" stroke="#666" stroke-width="0.5"/>
<text transform="translate(260.90,153.30) scale(0.94,1)" class="cb">0</text>
<text x="248.5" y="196.0">Cooling rate</text>
<text x="248.5" y="209.2"><tspan class="i">Ṫ</tspan><tspan dx="1.4"> [°C/s]</tspan></text>
<rect x="249.0" y="215.8" width="7.6" height="90.5" fill="url(#cbC)" stroke="#c8c8c8" stroke-width="0.5"/>
<line x1="255.40" y1="220.40" x2="257.00" y2="220.40" stroke="#666" stroke-width="0.5"/>
<text transform="translate(259.20,224.00) scale(0.94,1)" class="cb">0</text>
<line x1="255.40" y1="240.80" x2="257.00" y2="240.80" stroke="#666" stroke-width="0.5"/>
<text transform="translate(259.20,244.40) scale(0.94,1)" class="cb">-37.5</text>
<line x1="255.40" y1="261.20" x2="257.00" y2="261.20" stroke="#666" stroke-width="0.5"/>
<text transform="translate(259.20,264.80) scale(0.94,1)" class="cb">-75</text>
<line x1="255.40" y1="281.60" x2="257.00" y2="281.60" stroke="#666" stroke-width="0.5"/>
<text transform="translate(259.20,285.20) scale(0.94,1)" class="cb">-125.5</text>
<line x1="255.40" y1="302.00" x2="257.00" y2="302.00" stroke="#666" stroke-width="0.5"/>
<text transform="translate(259.20,305.60) scale(0.94,1)" class="cb">-150</text>
<text x="249.6" y="344.7">Martensitic phase fraction</text>
<text x="249.6" y="358.0"><tspan class="i">ξ</tspan><tspan class="sub" dy="2">m</tspan><tspan dy="-2"> [Vol. %]</tspan></text>
<rect x="250.0" y="364.4" width="7.6" height="90.4" fill="url(#cbM)" stroke="#c8c8c8" stroke-width="0.5"/>
<line x1="256.40" y1="368.50" x2="258.00" y2="368.50" stroke="#666" stroke-width="0.5"/>
<text transform="translate(260.20,372.10) scale(0.94,1)" class="cb">100</text>
<line x1="256.40" y1="389.15" x2="258.00" y2="389.15" stroke="#666" stroke-width="0.5"/>
<text transform="translate(260.20,392.75) scale(0.94,1)" class="cb">75</text>
<line x1="256.40" y1="409.80" x2="258.00" y2="409.80" stroke="#666" stroke-width="0.5"/>
<text transform="translate(260.20,413.40) scale(0.94,1)" class="cb">50</text>
<line x1="256.40" y1="430.45" x2="258.00" y2="430.45" stroke="#666" stroke-width="0.5"/>
<text transform="translate(260.20,434.05) scale(0.94,1)" class="cb">25</text>
<line x1="256.40" y1="451.10" x2="258.00" y2="451.10" stroke="#666" stroke-width="0.5"/>
<text transform="translate(260.20,454.70) scale(0.94,1)" class="cb">0</text>
<text x="248.9" y="498.9">Tangential residual stress</text>
<text x="248.9" y="511.6"><tspan class="i">σ</tspan><tspan class="sub" dy="2">t</tspan><tspan dy="-2"> [MPa]</tspan></text>
<rect x="249.2" y="518.4" width="7.8" height="90.1" fill="url(#cbS)" stroke="#c8c8c8" stroke-width="0.5"/>
<line x1="255.80" y1="523.10" x2="257.40" y2="523.10" stroke="#666" stroke-width="0.5"/>
<text transform="translate(259.70,526.70) scale(0.94,1)" class="cb">1000</text>
<line x1="255.80" y1="543.60" x2="257.40" y2="543.60" stroke="#666" stroke-width="0.5"/>
<text transform="translate(259.70,547.20) scale(0.94,1)" class="cb">500</text>
<line x1="255.80" y1="564.10" x2="257.40" y2="564.10" stroke="#666" stroke-width="0.5"/>
<text transform="translate(259.70,567.70) scale(0.94,1)" class="cb">0</text>
<line x1="255.80" y1="584.60" x2="257.40" y2="584.60" stroke="#666" stroke-width="0.5"/>
<text transform="translate(259.70,588.20) scale(0.94,1)" class="cb">-500</text>
<line x1="255.80" y1="605.10" x2="257.40" y2="605.10" stroke="#666" stroke-width="0.5"/>
<text transform="translate(259.70,608.70) scale(0.94,1)" class="cb">-1000</text>
<g transform="translate(291.50,69.00) scale(1,1.0)" filter="url(#soft)">
<g clip-path="url(#cOut)">
<rect x="40" y="-1" width="70" height="75" fill="url(#g1)"/>
<ellipse cx="80" cy="36" rx="17" ry="27" fill="#ffff10" filter="url(#b3)"/><ellipse cx="81" cy="36" rx="9" ry="14" fill="#ffff38" filter="url(#b3)"/>
<use href="#pS1" fill="none" stroke="#583000" stroke-opacity="0.22" stroke-width="6" filter="url(#b2)" transform="translate(2.4,0)"/>
<use href="#pS1" fill="none" stroke="#583000" stroke-opacity="0.50" stroke-width="2.0" filter="url(#b1)" transform="translate(0.8,0)"/>
<use href="#pS2" fill="none" stroke="#583000" stroke-opacity="0.25" stroke-width="6.5" filter="url(#b2)" transform="translate(-2.8,0)"/>
<use href="#pS2" fill="none" stroke="#583000" stroke-opacity="0.55" stroke-width="2.4" filter="url(#b1)" transform="translate(-1.0,0)"/>
<path d="M49,0.25 L91,0.25 M49,71.95 L91.5,71.95" fill="none" stroke="#583000" stroke-opacity="0.44" stroke-width="0.8"/>
<ellipse cx="99" cy="36.3" rx="4" ry="15" fill="#583000" fill-opacity="0.33" filter="url(#b2)"/>
</g>
<g clip-path="url(#cA)"><rect x="-2" y="-1" width="54" height="75" fill="url(#g2)"/><ellipse cx="43" cy="36" rx="14" ry="24" fill="#ffb000" filter="url(#b3)"/><ellipse cx="49" cy="36" rx="8" ry="26" fill="#ffc800" filter="url(#b3)"/><use href="#pL" fill="none" stroke="#e40000" stroke-width="7" filter="url(#b1)"/><use href="#pL" fill="none" stroke="#b40000" stroke-width="3" filter="url(#b1)"/></g>
<g clip-path="url(#cC)"><rect x="88" y="-1" width="42" height="75" fill="#ffff00"/><ellipse cx="92" cy="0" rx="6" ry="5" fill="#ffd000" filter="url(#b2)"/><ellipse cx="92" cy="72" rx="6" ry="5" fill="#ffd000" filter="url(#b2)"/></g>
<use href="#pS1" fill="none" stroke="#583000" stroke-opacity="0.55" stroke-width="1.0" transform="translate(0.2,0)"/>
<use href="#pS2" fill="none" stroke="#583000" stroke-opacity="0.44" stroke-width="0.9" transform="translate(-0.4,0)"/>
</g>
<g transform="translate(425.10,68.50) scale(1,1.0)" filter="url(#soft)">
<g clip-path="url(#cOut)">
<rect x="40" y="-1" width="70" height="75" fill="url(#g3)"/>

<use href="#pS1" fill="none" stroke="#380000" stroke-opacity="0.24" stroke-width="6" filter="url(#b2)" transform="translate(2.4,0)"/>
<use href="#pS1" fill="none" stroke="#380000" stroke-opacity="0.54" stroke-width="2.0" filter="url(#b1)" transform="translate(0.8,0)"/>
<use href="#pS2" fill="none" stroke="#380000" stroke-opacity="0.27" stroke-width="6.5" filter="url(#b2)" transform="translate(-2.8,0)"/>
<use href="#pS2" fill="none" stroke="#380000" stroke-opacity="0.60" stroke-width="2.4" filter="url(#b1)" transform="translate(-1.0,0)"/>
<path d="M49,0.25 L91,0.25 M49,71.95 L91.5,71.95" fill="none" stroke="#380000" stroke-opacity="0.48" stroke-width="0.8"/>
<ellipse cx="99" cy="36.3" rx="4" ry="15" fill="#380000" fill-opacity="0.36" filter="url(#b2)"/>
</g>
<g clip-path="url(#cA)"><rect x="-2" y="-1" width="54" height="75" fill="#ff0000"/><use href="#pL" fill="none" stroke="#f80000" stroke-width="30" filter="url(#b15)"/><use href="#pL" fill="none" stroke="#e80000" stroke-width="22" filter="url(#b15)"/><use href="#pL" fill="none" stroke="#cc0810" stroke-width="15" filter="url(#b15)"/><use href="#pL" fill="none" stroke="#c02838" stroke-width="9" filter="url(#b15)"/><use href="#pL" fill="none" stroke="#cc7888" stroke-width="4.4" filter="url(#b15)"/><use href="#pL" fill="none" stroke="#f0d4dc" stroke-width="1.6" filter="url(#b15)"/></g>
<g clip-path="url(#cC)"><rect x="88" y="-1" width="42" height="75" fill="url(#g4)"/></g>
<use href="#pS1" fill="none" stroke="#380000" stroke-opacity="0.55" stroke-width="1.0" transform="translate(0.2,0)"/>
<use href="#pS2" fill="none" stroke="#380000" stroke-opacity="0.44" stroke-width="0.9" transform="translate(-0.4,0)"/>
</g>
<g transform="translate(559.60,68.70) scale(1,1.0)" filter="url(#soft)">
<g clip-path="url(#cOut5)">
<rect x="40" y="-1" width="70" height="75" fill="url(#g6)"/>
<ellipse cx="74" cy="38" rx="9" ry="14" fill="#e6dcff" filter="url(#b3)"/>
<use href="#pS1" fill="none" stroke="#3c2c64" stroke-opacity="0.24" stroke-width="6" filter="url(#b2)" transform="translate(2.4,0)"/>
<use href="#pS1" fill="none" stroke="#3c2c64" stroke-opacity="0.54" stroke-width="2.0" filter="url(#b1)" transform="translate(0.8,0)"/>
<use href="#pS2" fill="none" stroke="#3c2c64" stroke-opacity="0.27" stroke-width="6.5" filter="url(#b2)" transform="translate(-2.8,0)"/>
<use href="#pS2" fill="none" stroke="#3c2c64" stroke-opacity="0.60" stroke-width="2.4" filter="url(#b1)" transform="translate(-1.0,0)"/>
<path d="M49,0.25 L91,0.25 M49,71.95 L91.5,71.95" fill="none" stroke="#3c2c64" stroke-opacity="0.48" stroke-width="0.8"/>
<ellipse cx="99" cy="36.3" rx="4" ry="15" fill="#3c2c64" fill-opacity="0.36" filter="url(#b2)"/>
</g>
<g clip-path="url(#cA)"><rect x="-2" y="-1" width="54" height="75" fill="#ddd0ff"/></g>
<g clip-path="url(#cC5)"><rect x="88" y="-1" width="42" height="75" fill="#ddd0ff"/></g>
<use href="#pS1" fill="none" stroke="#3c2c64" stroke-opacity="0.45" stroke-width="1.0" transform="translate(0.2,0)"/>
<use href="#pS2" fill="none" stroke="#3c2c64" stroke-opacity="0.36" stroke-width="0.9" transform="translate(-0.4,0)"/>
</g>
<g transform="translate(291.50,224.00) scale(1,1.011)" filter="url(#soft)">
<g clip-path="url(#cOut)">
<rect x="40" y="-1" width="70" height="75" fill="url(#g7)"/>

<use href="#pS1" fill="none" stroke="#401000" stroke-opacity="0.24" stroke-width="6" filter="url(#b2)" transform="translate(2.4,0)"/>
<use href="#pS1" fill="none" stroke="#401000" stroke-opacity="0.54" stroke-width="2.0" filter="url(#b1)" transform="translate(0.8,0)"/>
<use href="#pS2" fill="none" stroke="#401000" stroke-opacity="0.27" stroke-width="6.5" filter="url(#b2)" transform="translate(-2.8,0)"/>
<use href="#pS2" fill="none" stroke="#401000" stroke-opacity="0.60" stroke-width="2.4" filter="url(#b1)" transform="translate(-1.0,0)"/>
<path d="M49,0.25 L91,0.25 M49,71.95 L91.5,71.95" fill="none" stroke="#401000" stroke-opacity="0.48" stroke-width="0.8"/>
<ellipse cx="99" cy="36.3" rx="4" ry="15" fill="#401000" fill-opacity="0.36" filter="url(#b2)"/>
</g>
<g clip-path="url(#cA)"><rect x="-2" y="-1" width="54" height="75" fill="url(#g8)"/><ellipse cx="3" cy="36.1" rx="19.5" ry="47" fill="url(#rg21)"/></g>
<g clip-path="url(#cC)"><rect x="88" y="-1" width="42" height="75" fill="#ff5600"/></g>
<use href="#pS1" fill="none" stroke="#401000" stroke-opacity="0.55" stroke-width="1.0" transform="translate(0.2,0)"/>
<use href="#pS2" fill="none" stroke="#401000" stroke-opacity="0.44" stroke-width="0.9" transform="translate(-0.4,0)"/>
</g>
<g transform="translate(425.30,225.20) scale(1,1.011)" filter="url(#soft)">
<g clip-path="url(#cOut9)">
<rect x="40" y="-1" width="70" height="75" fill="url(#g10)"/>

<use href="#pS1" fill="none" stroke="#401000" stroke-opacity="0.24" stroke-width="6" filter="url(#b2)" transform="translate(2.4,0)"/>
<use href="#pS1" fill="none" stroke="#401000" stroke-opacity="0.54" stroke-width="2.0" filter="url(#b1)" transform="translate(0.8,0)"/>
<use href="#pS2" fill="none" stroke="#401000" stroke-opacity="0.27" stroke-width="6.5" filter="url(#b2)" transform="translate(-2.8,0)"/>
<use href="#pS2" fill="none" stroke="#401000" stroke-opacity="0.60" stroke-width="2.4" filter="url(#b1)" transform="translate(-1.0,0)"/>
<path d="M49,0.25 L91,0.25 M49,71.95 L91.5,71.95" fill="none" stroke="#401000" stroke-opacity="0.48" stroke-width="0.8"/>
<ellipse cx="99" cy="36.3" rx="4" ry="15" fill="#401000" fill-opacity="0.36" filter="url(#b2)"/>
</g>
<g clip-path="url(#cA)"><rect x="-2" y="-1" width="54" height="75" fill="url(#g11)"/><use href="#pOut" fill="none" stroke="#ff6400" stroke-width="2.5" filter="url(#b1)"/></g>
<g clip-path="url(#cC9)"><rect x="88" y="-1" width="42" height="75" fill="#ff6a00"/></g>
<use href="#pS1" fill="none" stroke="#401000" stroke-opacity="0.55" stroke-width="1.0" transform="translate(0.2,0)"/>
<use href="#pS2" fill="none" stroke="#401000" stroke-opacity="0.44" stroke-width="0.9" transform="translate(-0.4,0)"/>
</g>
<g transform="translate(560.00,222.70) scale(1,1.011)" filter="url(#soft)">
<g clip-path="url(#cOut)">
<rect x="40" y="-1" width="70" height="75" fill="url(#g12)"/>

<use href="#pS1" fill="none" stroke="#400800" stroke-opacity="0.26" stroke-width="6" filter="url(#b2)" transform="translate(2.4,0)"/>
<use href="#pS1" fill="none" stroke="#400800" stroke-opacity="0.59" stroke-width="2.0" filter="url(#b1)" transform="translate(0.8,0)"/>
<use href="#pS2" fill="none" stroke="#400800" stroke-opacity="0.29" stroke-width="6.5" filter="url(#b2)" transform="translate(-2.8,0)"/>
<use href="#pS2" fill="none" stroke="#400800" stroke-opacity="0.65" stroke-width="2.4" filter="url(#b1)" transform="translate(-1.0,0)"/>
<path d="M49,0.25 L91,0.25 M49,71.95 L91.5,71.95" fill="none" stroke="#400800" stroke-opacity="0.52" stroke-width="0.8"/>
<ellipse cx="99" cy="36.3" rx="4" ry="15" fill="#400800" fill-opacity="0.39" filter="url(#b2)"/>
</g>
<g clip-path="url(#cA)"><rect x="-2" y="-1" width="54" height="75" fill="#ff3c00"/></g>
<g clip-path="url(#cC)"><rect x="88" y="-1" width="42" height="75" fill="#ff3c00"/></g>
<use href="#pS1" fill="none" stroke="#400800" stroke-opacity="0.55" stroke-width="1.0" transform="translate(0.2,0)"/>
<use href="#pS2" fill="none" stroke="#400800" stroke-opacity="0.44" stroke-width="0.9" transform="translate(-0.4,0)"/>
</g>
<g transform="translate(291.50,373.20) scale(1,1.011)" filter="url(#soft)">
<g clip-path="url(#cOut)">
<rect x="40" y="-1" width="70" height="75" fill="url(#g13)"/>

<use href="#pS1" fill="none" stroke="#000030" stroke-opacity="0.20" stroke-width="6" filter="url(#b2)" transform="translate(2.4,0)"/>
<use href="#pS1" fill="none" stroke="#000030" stroke-opacity="0.45" stroke-width="2.0" filter="url(#b1)" transform="translate(0.8,0)"/>
<use href="#pS2" fill="none" stroke="#000030" stroke-opacity="0.23" stroke-width="6.5" filter="url(#b2)" transform="translate(-2.8,0)"/>
<use href="#pS2" fill="none" stroke="#000030" stroke-opacity="0.50" stroke-width="2.4" filter="url(#b1)" transform="translate(-1.0,0)"/>
<path d="M49,0.25 L91,0.25 M49,71.95 L91.5,71.95" fill="none" stroke="#000030" stroke-opacity="0.40" stroke-width="0.8"/>
<ellipse cx="99" cy="36.3" rx="4" ry="15" fill="#000030" fill-opacity="0.30" filter="url(#b2)"/>
</g>
<g clip-path="url(#cA)"><rect x="-2" y="-1" width="54" height="75" fill="#0038ff"/><use href="#pL" fill="none" stroke="#0080ff" stroke-width="5.5" filter="url(#b1)"/><use href="#pL" fill="none" stroke="#00e0ff" stroke-width="3.6" filter="url(#b1)"/><use href="#pL" fill="none" stroke="#80ff60" stroke-width="2.4" filter="url(#b1)"/></g>
<g clip-path="url(#cC)"><rect x="88" y="-1" width="42" height="75" fill="#0038ff"/></g>
<use href="#pS1" fill="none" stroke="#000030" stroke-opacity="0.55" stroke-width="1.0" transform="translate(0.2,0)"/>
<use href="#pS2" fill="none" stroke="#000030" stroke-opacity="0.44" stroke-width="0.9" transform="translate(-0.4,0)"/>
</g>
<g transform="translate(425.80,373.20) scale(1,1.011)" filter="url(#soft)">
<g clip-path="url(#cOut)">
<rect x="40" y="-1" width="70" height="75" fill="url(#g14)"/>

<use href="#pS1" fill="none" stroke="#000030" stroke-opacity="0.20" stroke-width="6" filter="url(#b2)" transform="translate(2.4,0)"/>
<use href="#pS1" fill="none" stroke="#000030" stroke-opacity="0.45" stroke-width="2.0" filter="url(#b1)" transform="translate(0.8,0)"/>
<use href="#pS2" fill="none" stroke="#000030" stroke-opacity="0.23" stroke-width="6.5" filter="url(#b2)" transform="translate(-2.8,0)"/>
<use href="#pS2" fill="none" stroke="#000030" stroke-opacity="0.50" stroke-width="2.4" filter="url(#b1)" transform="translate(-1.0,0)"/>
<path d="M49,0.25 L91,0.25 M49,71.95 L91.5,71.95" fill="none" stroke="#000030" stroke-opacity="0.40" stroke-width="0.8"/>
<ellipse cx="99" cy="36.3" rx="4" ry="15" fill="#000030" fill-opacity="0.30" filter="url(#b2)"/>
</g>
<g clip-path="url(#cA)"><rect x="-2" y="-1" width="54" height="75" fill="#0038ff"/><use href="#pL" fill="none" stroke="#0068ff" stroke-width="21" filter="url(#b06)"/><use href="#pL" fill="none" stroke="#00e0ff" stroke-width="17.5" filter="url(#b06)"/><use href="#pL" fill="none" stroke="#30ff50" stroke-width="14.6" filter="url(#b06)"/><use href="#pL" fill="none" stroke="#f8ff00" stroke-width="12.6" filter="url(#b06)"/></g>
<g clip-path="url(#cC)"><rect x="88" y="-1" width="42" height="75" fill="#0038ff"/></g>
<use href="#pS1" fill="none" stroke="#000030" stroke-opacity="0.55" stroke-width="1.0" transform="translate(0.2,0)"/>
<use href="#pS2" fill="none" stroke="#000030" stroke-opacity="0.44" stroke-width="0.9" transform="translate(-0.4,0)"/>
</g>
<g transform="translate(560.60,373.40) scale(1,1.011)" filter="url(#soft)">
<g clip-path="url(#cOut15)">
<rect x="40" y="-1" width="70" height="75" fill="url(#g16)"/>
<ellipse cx="80" cy="37" rx="15" ry="23" fill="#ffe818" filter="url(#b3)"/>
<use href="#pS1" fill="none" stroke="#482800" stroke-opacity="0.22" stroke-width="6" filter="url(#b2)" transform="translate(2.4,0)"/>
<use href="#pS1" fill="none" stroke="#482800" stroke-opacity="0.50" stroke-width="2.0" filter="url(#b1)" transform="translate(0.8,0)"/>
<use href="#pS2" fill="none" stroke="#482800" stroke-opacity="0.25" stroke-width="6.5" filter="url(#b2)" transform="translate(-2.8,0)"/>
<use href="#pS2" fill="none" stroke="#482800" stroke-opacity="0.55" stroke-width="2.4" filter="url(#b1)" transform="translate(-1.0,0)"/>
<path d="M49,0.25 L91,0.25 M49,71.95 L91.5,71.95" fill="none" stroke="#482800" stroke-opacity="0.44" stroke-width="0.8"/>
<ellipse cx="99" cy="36.3" rx="4" ry="15" fill="#482800" fill-opacity="0.33" filter="url(#b2)"/>
</g>
<g clip-path="url(#cA)"><rect x="-2" y="-1" width="54" height="75" fill="url(#g17)"/></g>
<g clip-path="url(#cC15)"><rect x="88" y="-1" width="42" height="75" fill="#ffff00"/><ellipse cx="92" cy="0" rx="6" ry="5" fill="#ffd000" filter="url(#b2)"/><ellipse cx="92" cy="72" rx="6" ry="5" fill="#ffd000" filter="url(#b2)"/></g>
<use href="#pS1" fill="none" stroke="#482800" stroke-opacity="0.55" stroke-width="1.0" transform="translate(0.2,0)"/>
<use href="#pS2" fill="none" stroke="#482800" stroke-opacity="0.44" stroke-width="0.9" transform="translate(-0.4,0)"/>
</g>
<g transform="translate(291.40,527.00) scale(1,1.011)" filter="url(#soft)">
<g clip-path="url(#cOut)">
<rect x="40" y="-1" width="70" height="75" fill="url(#g18)"/>
<ellipse cx="69" cy="13.5" rx="2.4" ry="1.8" fill="#d0ff28" fill-opacity="0.85" filter="url(#b1)"/><ellipse cx="67.5" cy="58.5" rx="2.8" ry="1.8" fill="#c8ff28" fill-opacity="0.85" filter="url(#b1)"/>
<use href="#pS1" fill="none" stroke="#0c3000" stroke-opacity="0.22" stroke-width="6" filter="url(#b2)" transform="translate(2.4,0)"/>
<use href="#pS1" fill="none" stroke="#0c3000" stroke-opacity="0.50" stroke-width="2.0" filter="url(#b1)" transform="translate(0.8,0)"/>
<use href="#pS2" fill="none" stroke="#0c3000" stroke-opacity="0.25" stroke-width="6.5" filter="url(#b2)" transform="translate(-2.8,0)"/>
<use href="#pS2" fill="none" stroke="#0c3000" stroke-opacity="0.55" stroke-width="2.4" filter="url(#b1)" transform="translate(-1.0,0)"/>
<path d="M49,0.25 L91,0.25 M49,71.95 L91.5,71.95" fill="none" stroke="#0c3000" stroke-opacity="0.44" stroke-width="0.8"/>
<ellipse cx="99" cy="36.3" rx="4" ry="15" fill="#0c3000" fill-opacity="0.33" filter="url(#b2)"/>
</g>
<g clip-path="url(#cA)"><rect x="-2" y="-1" width="54" height="75" fill="#ecff00"/><path d="M34,6.5 L60,6.5 L60,65.5 L34,65.5 C14,65.5 6.5,52 6.5,36 C6.5,20 14,6.5 34,6.5Z" fill="url(#g41core)" filter="url(#b15)"/><g filter="url(#skC)"><ellipse cx="15" cy="37" rx="8" ry="24" fill="#000" filter="url(#b2)"/></g><ellipse cx="12.3" cy="37.5" rx="4.6" ry="18" fill="#00ffe8" fill-opacity="0.92" filter="url(#b15)"/><g filter="url(#skG)" opacity="0.5"><path d="M1,0 L9,0 Q-1,36 9,72 L1,72Z" fill="#000"/></g></g>
<g clip-path="url(#cC)"><rect x="88" y="-1" width="42" height="75" fill="url(#g19)"/></g>
<use href="#pS1" fill="none" stroke="#0c3000" stroke-opacity="0.55" stroke-width="1.0" transform="translate(0.2,0)"/>
<use href="#pS2" fill="none" stroke="#0c3000" stroke-opacity="0.44" stroke-width="0.9" transform="translate(-0.4,0)"/>
</g>
<g transform="translate(425.50,527.20) scale(1,1.011)" filter="url(#soft)">
<g clip-path="url(#cOut)">
<rect x="40" y="-1" width="70" height="75" fill="url(#g20)"/>
<ellipse cx="69" cy="13.5" rx="3.4" ry="2.6" fill="#f4ff20" filter="url(#b1)"/><ellipse cx="68" cy="58.5" rx="3.8" ry="2.4" fill="#f0ff20" filter="url(#b1)"/>
<use href="#pS1" fill="none" stroke="#0c3000" stroke-opacity="0.22" stroke-width="6" filter="url(#b2)" transform="translate(2.4,0)"/>
<use href="#pS1" fill="none" stroke="#0c3000" stroke-opacity="0.50" stroke-width="2.0" filter="url(#b1)" transform="translate(0.8,0)"/>
<use href="#pS2" fill="none" stroke="#0c3000" stroke-opacity="0.25" stroke-width="6.5" filter="url(#b2)" transform="translate(-2.8,0)"/>
<use href="#pS2" fill="none" stroke="#0c3000" stroke-opacity="0.55" stroke-width="2.4" filter="url(#b1)" transform="translate(-1.0,0)"/>
<path d="M49,0.25 L91,0.25 M49,71.95 L91.5,71.95" fill="none" stroke="#0c3000" stroke-opacity="0.44" stroke-width="0.8"/>
<ellipse cx="99" cy="36.3" rx="4" ry="15" fill="#0c3000" fill-opacity="0.33" filter="url(#b2)"/>
</g>
<g clip-path="url(#cA)"><rect x="-2" y="-1" width="54" height="75" fill="#fcff00"/><ellipse cx="50" cy="36" rx="9" ry="44" fill="#98ff00" filter="url(#b3)"/><rect x="8" y="-3" width="50" height="8" fill="#90ff00" filter="url(#b2)"/><rect x="8" y="67.5" width="50" height="8" fill="#a0ff00" filter="url(#b2)"/><g filter="url(#skG)"><ellipse cx="40" cy="7" rx="14" ry="8" fill="#000" filter="url(#b2)"/></g><g filter="url(#skC)" opacity="0.8"><ellipse cx="42" cy="7" rx="10" ry="6" fill="#000" filter="url(#b2)"/></g><g filter="url(#skG)" opacity="0.8"><ellipse cx="30" cy="70" rx="16" ry="5" fill="#000" filter="url(#b1)"/></g><g filter="url(#skB)" opacity="0.7"><ellipse cx="30" cy="72.4" rx="14" ry="2" fill="#000"/></g><g filter="url(#skC)"><path d="M3,0 L14,0 Q4,36 14,72 L3,72 Q-8,36 3,0Z" fill="#000" filter="url(#b1)"/></g><use href="#pL" fill="none" stroke="#b0ff20" stroke-width="15" filter="url(#b1)"/><use href="#pL" fill="none" stroke="#20ffd0" stroke-width="12" filter="url(#b1)"/><use href="#pL" fill="none" stroke="#00d0ff" stroke-width="8.5" filter="url(#b1)"/><use href="#pL" fill="none" stroke="#0058ff" stroke-width="4.4" filter="url(#b1)"/></g>
<g clip-path="url(#cC)"><rect x="88" y="-1" width="42" height="75" fill="url(#g21)"/></g>
<use href="#pS1" fill="none" stroke="#0c3000" stroke-opacity="0.55" stroke-width="1.0" transform="translate(0.2,0)"/>
<use href="#pS2" fill="none" stroke="#0c3000" stroke-opacity="0.44" stroke-width="0.9" transform="translate(-0.4,0)"/>
</g>
<g transform="translate(560.20,526.20) scale(1,1.011)" filter="url(#soft)">
<g clip-path="url(#cOut)">
<rect x="40" y="-1" width="70" height="75" fill="url(#g22)"/>
<ellipse cx="69" cy="13.5" rx="3.4" ry="2.6" fill="#f4ff20" filter="url(#b1)"/><ellipse cx="68" cy="58.5" rx="3.8" ry="2.4" fill="#f0ff20" filter="url(#b1)"/>
<use href="#pS1" fill="none" stroke="#0c3000" stroke-opacity="0.22" stroke-width="6" filter="url(#b2)" transform="translate(2.4,0)"/>
<use href="#pS1" fill="none" stroke="#0c3000" stroke-opacity="0.50" stroke-width="2.0" filter="url(#b1)" transform="translate(0.8,0)"/>
<use href="#pS2" fill="none" stroke="#0c3000" stroke-opacity="0.25" stroke-width="6.5" filter="url(#b2)" transform="translate(-2.8,0)"/>
<use href="#pS2" fill="none" stroke="#0c3000" stroke-opacity="0.55" stroke-width="2.4" filter="url(#b1)" transform="translate(-1.0,0)"/>
<path d="M49,0.25 L91,0.25 M49,71.95 L91.5,71.95" fill="none" stroke="#0c3000" stroke-opacity="0.44" stroke-width="0.8"/>
<ellipse cx="99" cy="36.3" rx="4" ry="15" fill="#0c3000" fill-opacity="0.33" filter="url(#b2)"/>
</g>
<g clip-path="url(#cA)"><rect x="-2" y="-1" width="54" height="75" fill="#f0ff00"/><path d="M34,9 L60,9 L60,63 L34,63 C8,63 8,9 34,9Z" fill="#58fc08" filter="url(#b2)"/><g filter="url(#skG2)"><path d="M0,0 L52,0 L52,72 L0,72Z" fill="#000"/></g><g filter="url(#skY2)" opacity="0.8"><path d="M0,0 L52,0 L52,72 L0,72Z" fill="#000"/></g><use href="#pL" fill="none" stroke="#80ff60" stroke-width="6" filter="url(#b1)"/><use href="#pL" fill="none" stroke="#00f0ff" stroke-width="3.6" filter="url(#b1)"/></g>
<g clip-path="url(#cC)"><rect x="88" y="-1" width="42" height="75" fill="url(#g23)"/></g>
<use href="#pS1" fill="none" stroke="#0c3000" stroke-opacity="0.55" stroke-width="1.0" transform="translate(0.2,0)"/>
<use href="#pS2" fill="none" stroke="#0c3000" stroke-opacity="0.44" stroke-width="0.9" transform="translate(-0.4,0)"/>
</g>
</svg>
</body></html>
